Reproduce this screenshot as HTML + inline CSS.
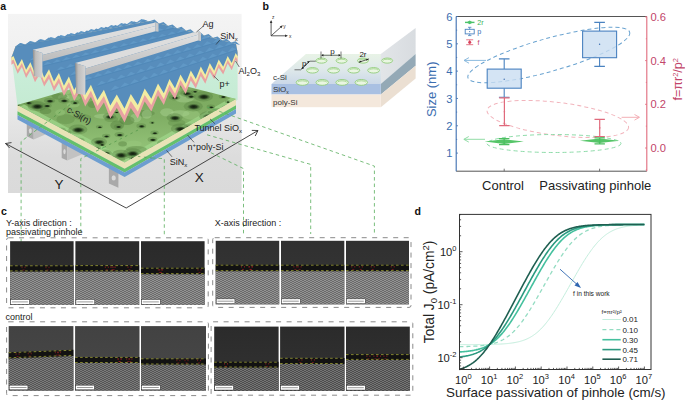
<!DOCTYPE html>
<html><head><meta charset="utf-8"><style>
html,body{margin:0;padding:0;background:#fff;width:685px;height:402px;overflow:hidden}
svg{display:block;font-family:"Liberation Sans",sans-serif}
</style></head><body>
<svg width="685" height="402" viewBox="0 0 685 402">
<defs>
<linearGradient id="abg" x1="0" y1="0" x2="0" y2="1"><stop offset="0" stop-color="#f4f4f4"/><stop offset="0.45" stop-color="#ececec"/><stop offset="0.8" stop-color="#dcdcdc"/><stop offset="1" stop-color="#dadada"/></linearGradient>
<linearGradient id="abulk" x1="0" y1="0" x2="0" y2="1"><stop offset="0" stop-color="#ccefdc"/><stop offset="1" stop-color="#bde6c9"/></linearGradient>
<linearGradient id="atex" x1="0" y1="0" x2="0" y2="1"><stop offset="0" stop-color="#78a65c"/><stop offset="0.5" stop-color="#80ae64"/><stop offset="1" stop-color="#9acb80"/></linearGradient>
<linearGradient id="afing" x1="0" y1="0" x2="0" y2="1"><stop offset="0" stop-color="#e2e2e2"/><stop offset="0.4" stop-color="#d0d0d0"/><stop offset="1" stop-color="#bcbcbc"/></linearGradient>
<linearGradient id="acap" x1="0" y1="0" x2="1" y2="0"><stop offset="0" stop-color="#8e8e8e"/><stop offset="0.3" stop-color="#bdbdbd"/><stop offset="1" stop-color="#d4d4d4"/></linearGradient>
<radialGradient id="ahole"><stop offset="0" stop-color="#101a0d"/><stop offset="0.45" stop-color="#243a1c"/><stop offset="1" stop-color="#3d5e30" stop-opacity="0"/></radialGradient>
<radialGradient id="afootg" cx="0.5" cy="0.5" r="0.6"><stop offset="0" stop-color="#d6d6d6"/><stop offset="1" stop-color="#a8a8a8"/></radialGradient>
</defs>
<rect x="8" y="13.9" width="233.6" height="179.1" fill="url(#abg)"/>
<path d="M11.4,56 L125,100 L237.6,50 L237.6,100 L124.6,162.5 L17.5,106 Z" fill="url(#abulk)"/>
<path d="M26.8,136.2 L33.7,139.4 L33.7,119.4 L26.8,116.2 Z" fill="#a9a9a9"/>
<ellipse cx="30.3" cy="130.8" rx="1.5" ry="2.6" fill="#dedede" opacity="0.9"/>
<path d="M33.7,139.4 L45.3,134.6 L45.3,114.6 L33.7,119.4 Z" fill="#c2c2c2"/>
<path d="M61.7,158.1 L67.2,160.6 L67.2,138.6 L61.7,136.1 Z" fill="#a9a9a9"/>
<ellipse cx="64.5" cy="151.6" rx="1.2" ry="2.6" fill="#dedede" opacity="0.9"/>
<path d="M67.2,160.6 L84.2,153.6 L84.2,131.6 L67.2,138.6 Z" fill="#c2c2c2"/>
<path d="M108.9,183.4 L118.4,187.8 L118.4,165.8 L108.9,161.4 Z" fill="#a9a9a9"/>
<ellipse cx="113.7" cy="177.9" rx="2.1" ry="2.6" fill="#dedede" opacity="0.9"/>
<path d="M17.5,105.0 L124.6,162.5 L236.0,99.0 L236.0,105.2 L124.6,168.7 L17.5,111.2 Z" fill="#e8e3b6"/>
<path d="M17.5,111.2 L124.6,168.7 L236.0,105.2 L236.0,108.9 L124.6,172.4 L17.5,114.9 Z" fill="#64c06c"/>
<path d="M17.5,114.9 L124.6,172.4 L236.0,108.9 L236.0,113.4 L124.6,176.9 L17.5,119.4 Z" fill="#6d9ed0"/>
<path d="M17.5,105 L130,72 L236,99 L124.6,162.5 Z" fill="url(#atex)"/>
<clipPath id="texclip"><path d="M17.5,105 L130,72 L236,99 L124.6,162.5 Z"/></clipPath>
<g clip-path="url(#texclip)"><path d="M17.5,105 L124.6,162.5 L236,99 L236,95 L124.6,158.0 L17.5,101 Z" fill="#9ed488" opacity="0.8"/><ellipse cx="87.2" cy="84.3" rx="4.3" ry="4.5" fill="#b0d898" opacity="0.4"/><ellipse cx="36.0" cy="125.4" rx="5.5" ry="2.3" fill="#4f7a3a" opacity="0.4"/><ellipse cx="108.3" cy="92.9" rx="7.0" ry="4.5" fill="#4f7a3a" opacity="0.4"/><ellipse cx="42.6" cy="91.2" rx="8.1" ry="2.2" fill="#b0d898" opacity="0.4"/><ellipse cx="145.6" cy="74.7" rx="4.3" ry="4.6" fill="#a3d088" opacity="0.4"/><ellipse cx="79.6" cy="83.7" rx="8.0" ry="3.7" fill="#557f3e" opacity="0.4"/><ellipse cx="167.1" cy="79.8" rx="8.5" ry="3.1" fill="#4f7a3a" opacity="0.4"/><ellipse cx="137.1" cy="76.0" rx="8.3" ry="3.5" fill="#557f3e" opacity="0.4"/><ellipse cx="133.6" cy="143.8" rx="8.1" ry="3.4" fill="#9ccb80" opacity="0.4"/><ellipse cx="81.8" cy="145.5" rx="9.5" ry="2.2" fill="#b0d898" opacity="0.4"/><ellipse cx="82.0" cy="117.0" rx="9.1" ry="2.9" fill="#5e8c45" opacity="0.4"/><ellipse cx="233.6" cy="81.2" rx="5.2" ry="3.0" fill="#9ccb80" opacity="0.4"/><ellipse cx="223.1" cy="110.1" rx="4.5" ry="3.7" fill="#b0d898" opacity="0.4"/><ellipse cx="191.0" cy="147.7" rx="8.9" ry="3.8" fill="#5e8c45" opacity="0.4"/><ellipse cx="144.3" cy="113.3" rx="10.6" ry="3.4" fill="#557f3e" opacity="0.4"/><ellipse cx="163.1" cy="75.8" rx="6.2" ry="3.7" fill="#b0d898" opacity="0.4"/><ellipse cx="166.9" cy="112.3" rx="6.7" ry="4.0" fill="#b0d898" opacity="0.4"/><ellipse cx="20.0" cy="113.9" rx="8.3" ry="3.5" fill="#a3d088" opacity="0.4"/><ellipse cx="63.7" cy="97.3" rx="5.7" ry="3.2" fill="#b0d898" opacity="0.4"/><ellipse cx="209.3" cy="77.7" rx="6.8" ry="2.8" fill="#9ccb80" opacity="0.4"/><ellipse cx="45.5" cy="110.9" rx="5.9" ry="3.2" fill="#4f7a3a" opacity="0.4"/><ellipse cx="95.0" cy="154.0" rx="5.1" ry="2.5" fill="#a3d088" opacity="0.4"/><ellipse cx="66.7" cy="92.2" rx="9.8" ry="2.5" fill="#9ccb80" opacity="0.4"/><ellipse cx="77.9" cy="83.8" rx="6.6" ry="3.7" fill="#4f7a3a" opacity="0.4"/><ellipse cx="227.5" cy="135.6" rx="10.7" ry="4.0" fill="#4f7a3a" opacity="0.4"/><ellipse cx="180.0" cy="113.4" rx="9.6" ry="3.2" fill="#b0d898" opacity="0.4"/><ellipse cx="104.0" cy="79.8" rx="6.8" ry="2.6" fill="#b0d898" opacity="0.4"/><ellipse cx="234.6" cy="111.9" rx="6.4" ry="2.2" fill="#557f3e" opacity="0.4"/><ellipse cx="15.1" cy="84.4" rx="10.6" ry="3.8" fill="#557f3e" opacity="0.4"/><ellipse cx="30.7" cy="89.8" rx="5.0" ry="2.8" fill="#9ccb80" opacity="0.4"/><ellipse cx="92.5" cy="104.6" rx="4.8" ry="3.5" fill="#557f3e" opacity="0.4"/><ellipse cx="233.1" cy="115.6" rx="4.6" ry="2.3" fill="#5e8c45" opacity="0.4"/><ellipse cx="91.4" cy="95.2" rx="5.1" ry="2.1" fill="#b0d898" opacity="0.4"/><ellipse cx="227.1" cy="120.2" rx="8.8" ry="4.7" fill="#a3d088" opacity="0.4"/><ellipse cx="184.1" cy="98.3" rx="10.0" ry="4.1" fill="#b0d898" opacity="0.4"/><ellipse cx="73.2" cy="104.8" rx="6.5" ry="2.7" fill="#a3d088" opacity="0.4"/><ellipse cx="135.8" cy="117.8" rx="5.6" ry="4.4" fill="#b0d898" opacity="0.4"/><ellipse cx="234.6" cy="151.0" rx="9.7" ry="4.2" fill="#a3d088" opacity="0.4"/><ellipse cx="65.6" cy="119.2" rx="9.1" ry="5.0" fill="#5e8c45" opacity="0.4"/><ellipse cx="191.2" cy="114.9" rx="8.8" ry="4.9" fill="#a3d088" opacity="0.4"/><ellipse cx="114.7" cy="159.0" rx="10.7" ry="3.1" fill="#5e8c45" opacity="0.4"/><ellipse cx="64.2" cy="91.6" rx="6.4" ry="3.4" fill="#a3d088" opacity="0.4"/><ellipse cx="234.7" cy="128.0" rx="7.4" ry="4.0" fill="#557f3e" opacity="0.4"/><ellipse cx="193.3" cy="78.1" rx="4.8" ry="3.2" fill="#b0d898" opacity="0.4"/><ellipse cx="173.7" cy="88.9" rx="7.0" ry="3.9" fill="#a3d088" opacity="0.4"/><ellipse cx="34.3" cy="159.9" rx="6.8" ry="3.2" fill="#b0d898" opacity="0.4"/><ellipse cx="226.1" cy="138.9" rx="11.0" ry="2.1" fill="#a3d088" opacity="0.4"/><ellipse cx="146.8" cy="114.2" rx="5.0" ry="4.5" fill="#b0d898" opacity="0.4"/><ellipse cx="233.6" cy="132.4" rx="5.1" ry="3.6" fill="#5e8c45" opacity="0.4"/><ellipse cx="19.8" cy="145.9" rx="8.5" ry="3.6" fill="#b0d898" opacity="0.4"/><ellipse cx="223.2" cy="111.2" rx="9.8" ry="2.6" fill="#a3d088" opacity="0.4"/><ellipse cx="71.2" cy="97.8" rx="9.3" ry="3.0" fill="#a3d088" opacity="0.4"/><ellipse cx="136.4" cy="149.2" rx="10.4" ry="3.1" fill="#557f3e" opacity="0.4"/><ellipse cx="117.2" cy="125.4" rx="6.9" ry="4.8" fill="#4f7a3a" opacity="0.4"/><ellipse cx="126.9" cy="120.5" rx="7.6" ry="4.6" fill="#4f7a3a" opacity="0.4"/><ellipse cx="188.2" cy="127.8" rx="5.2" ry="3.4" fill="#a3d088" opacity="0.4"/><ellipse cx="176.7" cy="122.9" rx="8.8" ry="3.6" fill="#5e8c45" opacity="0.4"/><ellipse cx="122.6" cy="143.8" rx="4.4" ry="2.6" fill="#4f7a3a" opacity="0.4"/><ellipse cx="24.4" cy="79.3" rx="7.9" ry="4.3" fill="#9ccb80" opacity="0.4"/><ellipse cx="218.5" cy="112.1" rx="10.8" ry="3.8" fill="#4f7a3a" opacity="0.4"/><ellipse cx="59.5" cy="96.3" rx="7.7" ry="3.4" fill="#4f7a3a" opacity="0.4"/><ellipse cx="225.0" cy="136.4" rx="10.5" ry="4.7" fill="#5e8c45" opacity="0.4"/><ellipse cx="60.2" cy="112.5" rx="4.9" ry="3.3" fill="#9ccb80" opacity="0.4"/><ellipse cx="31.2" cy="92.9" rx="5.5" ry="2.9" fill="#557f3e" opacity="0.4"/><ellipse cx="42.3" cy="143.8" rx="8.5" ry="3.1" fill="#b0d898" opacity="0.4"/><ellipse cx="71.4" cy="83.0" rx="5.5" ry="4.9" fill="#9ccb80" opacity="0.4"/><ellipse cx="103.8" cy="116.3" rx="9.8" ry="2.5" fill="#b0d898" opacity="0.4"/><ellipse cx="111.2" cy="119.0" rx="6.9" ry="3.1" fill="#5e8c45" opacity="0.4"/><ellipse cx="35.6" cy="104.8" rx="7.9" ry="3.3" fill="#5e8c45" opacity="0.4"/><ellipse cx="19.0" cy="101.5" rx="6.1" ry="4.9" fill="#4f7a3a" opacity="0.4"/><ellipse cx="-0.4" cy="96.8" rx="8.0" ry="4.4" fill="#4f7a3c" opacity="0.35"/><ellipse cx="0.0" cy="97.3" rx="5.8" ry="2.8" fill="url(#ahole)"/><ellipse cx="11.5" cy="93.1" rx="8.0" ry="4.4" fill="#4f7a3c" opacity="0.35"/><ellipse cx="11.9" cy="93.6" rx="5.8" ry="2.8" fill="url(#ahole)"/><ellipse cx="18.5" cy="87.9" rx="6.6" ry="3.6" fill="#4f7a3c" opacity="0.35"/><ellipse cx="18.9" cy="88.4" rx="4.8" ry="2.3" fill="url(#ahole)"/><ellipse cx="22.7" cy="86.4" rx="8.0" ry="4.4" fill="#4f7a3c" opacity="0.35"/><ellipse cx="23.1" cy="86.9" rx="5.8" ry="2.8" fill="url(#ahole)"/><ellipse cx="42.6" cy="80.6" rx="4.9" ry="2.7" fill="#4f7a3c" opacity="0.35"/><ellipse cx="43.0" cy="81.1" rx="3.5" ry="1.7" fill="url(#ahole)"/><ellipse cx="64.3" cy="75.3" rx="5.6" ry="3.0" fill="#4f7a3c" opacity="0.35"/><ellipse cx="64.7" cy="75.8" rx="4.0" ry="1.9" fill="url(#ahole)"/><ellipse cx="72.3" cy="74.2" rx="3.5" ry="1.9" fill="#4f7a3c" opacity="0.35"/><ellipse cx="72.7" cy="74.7" rx="2.5" ry="1.2" fill="url(#ahole)"/><ellipse cx="96.0" cy="68.6" rx="4.9" ry="2.7" fill="#4f7a3c" opacity="0.35"/><ellipse cx="96.4" cy="69.1" rx="3.5" ry="1.7" fill="url(#ahole)"/><ellipse cx="119.8" cy="57.6" rx="4.9" ry="2.7" fill="#4f7a3c" opacity="0.35"/><ellipse cx="120.2" cy="58.1" rx="3.5" ry="1.7" fill="url(#ahole)"/><ellipse cx="141.6" cy="54.1" rx="8.0" ry="4.4" fill="#4f7a3c" opacity="0.35"/><ellipse cx="142.0" cy="54.6" rx="5.8" ry="2.8" fill="url(#ahole)"/><ellipse cx="-4.3" cy="102.4" rx="4.2" ry="2.3" fill="#4f7a3c" opacity="0.35"/><ellipse cx="-3.9" cy="102.9" rx="3.0" ry="1.4" fill="url(#ahole)"/><ellipse cx="13.2" cy="96.8" rx="5.6" ry="3.0" fill="#4f7a3c" opacity="0.35"/><ellipse cx="13.6" cy="97.3" rx="4.0" ry="1.9" fill="url(#ahole)"/><ellipse cx="24.1" cy="94.9" rx="8.0" ry="4.4" fill="#4f7a3c" opacity="0.35"/><ellipse cx="24.5" cy="95.4" rx="5.8" ry="2.8" fill="url(#ahole)"/><ellipse cx="69.6" cy="84.0" rx="4.9" ry="2.7" fill="#4f7a3c" opacity="0.35"/><ellipse cx="70.0" cy="84.5" rx="3.5" ry="1.7" fill="url(#ahole)"/><ellipse cx="101.1" cy="73.9" rx="4.2" ry="2.3" fill="#4f7a3c" opacity="0.35"/><ellipse cx="101.5" cy="74.4" rx="3.0" ry="1.4" fill="url(#ahole)"/><ellipse cx="118.1" cy="66.8" rx="4.2" ry="2.3" fill="#4f7a3c" opacity="0.35"/><ellipse cx="118.5" cy="67.3" rx="3.0" ry="1.4" fill="url(#ahole)"/><ellipse cx="132.1" cy="64.3" rx="8.0" ry="4.4" fill="#4f7a3c" opacity="0.35"/><ellipse cx="132.5" cy="64.8" rx="5.8" ry="2.8" fill="url(#ahole)"/><ellipse cx="1.3" cy="110.8" rx="8.0" ry="4.4" fill="#4f7a3c" opacity="0.35"/><ellipse cx="1.7" cy="111.3" rx="5.8" ry="2.8" fill="url(#ahole)"/><ellipse cx="17.3" cy="104.8" rx="2.8" ry="1.5" fill="#4f7a3c" opacity="0.35"/><ellipse cx="17.7" cy="105.3" rx="2.0" ry="1.0" fill="url(#ahole)"/><ellipse cx="28.7" cy="102.7" rx="4.9" ry="2.7" fill="#4f7a3c" opacity="0.35"/><ellipse cx="29.1" cy="103.2" rx="3.5" ry="1.7" fill="url(#ahole)"/><ellipse cx="31.1" cy="98.8" rx="3.5" ry="1.9" fill="#4f7a3c" opacity="0.35"/><ellipse cx="31.5" cy="99.3" rx="2.5" ry="1.2" fill="url(#ahole)"/><ellipse cx="101.3" cy="81.1" rx="9.5" ry="5.1" fill="#4f7a3c" opacity="0.35"/><ellipse cx="101.7" cy="81.6" rx="6.8" ry="3.2" fill="url(#ahole)"/><ellipse cx="122.7" cy="74.5" rx="4.9" ry="2.7" fill="#4f7a3c" opacity="0.35"/><ellipse cx="123.1" cy="75.0" rx="3.5" ry="1.7" fill="url(#ahole)"/><ellipse cx="139.2" cy="70.0" rx="2.8" ry="1.5" fill="#4f7a3c" opacity="0.35"/><ellipse cx="139.6" cy="70.5" rx="2.0" ry="1.0" fill="url(#ahole)"/><ellipse cx="148.2" cy="66.2" rx="3.5" ry="1.9" fill="#4f7a3c" opacity="0.35"/><ellipse cx="148.6" cy="66.7" rx="2.5" ry="1.2" fill="url(#ahole)"/><ellipse cx="37.0" cy="106.1" rx="9.5" ry="5.1" fill="#4f7a3c" opacity="0.35"/><ellipse cx="37.4" cy="106.6" rx="6.8" ry="3.2" fill="url(#ahole)"/><ellipse cx="46.8" cy="105.6" rx="4.9" ry="2.7" fill="#4f7a3c" opacity="0.35"/><ellipse cx="47.2" cy="106.1" rx="3.5" ry="1.7" fill="url(#ahole)"/><ellipse cx="49.6" cy="100.7" rx="5.6" ry="3.0" fill="#4f7a3c" opacity="0.35"/><ellipse cx="50.0" cy="101.2" rx="4.0" ry="1.9" fill="url(#ahole)"/><ellipse cx="63.9" cy="100.4" rx="5.6" ry="3.0" fill="#4f7a3c" opacity="0.35"/><ellipse cx="64.3" cy="100.9" rx="4.0" ry="1.9" fill="url(#ahole)"/><ellipse cx="132.6" cy="80.1" rx="5.6" ry="3.0" fill="#4f7a3c" opacity="0.35"/><ellipse cx="133.0" cy="80.6" rx="4.0" ry="1.9" fill="url(#ahole)"/><ellipse cx="147.5" cy="75.5" rx="5.6" ry="3.0" fill="#4f7a3c" opacity="0.35"/><ellipse cx="147.9" cy="76.0" rx="4.0" ry="1.9" fill="url(#ahole)"/><ellipse cx="74.7" cy="102.6" rx="4.2" ry="2.3" fill="#4f7a3c" opacity="0.35"/><ellipse cx="75.1" cy="103.1" rx="3.0" ry="1.4" fill="url(#ahole)"/><ellipse cx="100.3" cy="95.8" rx="8.0" ry="4.4" fill="#4f7a3c" opacity="0.35"/><ellipse cx="100.7" cy="96.3" rx="5.8" ry="2.8" fill="url(#ahole)"/><ellipse cx="121.1" cy="89.0" rx="9.5" ry="5.1" fill="#4f7a3c" opacity="0.35"/><ellipse cx="121.5" cy="89.5" rx="6.8" ry="3.2" fill="url(#ahole)"/><ellipse cx="155.9" cy="77.7" rx="8.0" ry="4.4" fill="#4f7a3c" opacity="0.35"/><ellipse cx="156.3" cy="78.2" rx="5.8" ry="2.8" fill="url(#ahole)"/><ellipse cx="24.7" cy="125.0" rx="4.9" ry="2.7" fill="#4f7a3c" opacity="0.35"/><ellipse cx="25.1" cy="125.5" rx="3.5" ry="1.7" fill="url(#ahole)"/><ellipse cx="96.7" cy="102.4" rx="3.5" ry="1.9" fill="#4f7a3c" opacity="0.35"/><ellipse cx="97.1" cy="102.9" rx="2.5" ry="1.2" fill="url(#ahole)"/><ellipse cx="113.1" cy="100.7" rx="9.5" ry="5.1" fill="#4f7a3c" opacity="0.35"/><ellipse cx="113.5" cy="101.2" rx="6.8" ry="3.2" fill="url(#ahole)"/><ellipse cx="141.4" cy="91.4" rx="8.0" ry="4.4" fill="#4f7a3c" opacity="0.35"/><ellipse cx="141.8" cy="91.9" rx="5.8" ry="2.8" fill="url(#ahole)"/><ellipse cx="173.8" cy="80.1" rx="4.9" ry="2.7" fill="#4f7a3c" opacity="0.35"/><ellipse cx="174.2" cy="80.6" rx="3.5" ry="1.7" fill="url(#ahole)"/><ellipse cx="40.9" cy="125.2" rx="8.0" ry="4.4" fill="#4f7a3c" opacity="0.35"/><ellipse cx="41.3" cy="125.7" rx="5.8" ry="2.8" fill="url(#ahole)"/><ellipse cx="119.7" cy="104.8" rx="9.5" ry="5.1" fill="#4f7a3c" opacity="0.35"/><ellipse cx="120.1" cy="105.3" rx="6.8" ry="3.2" fill="url(#ahole)"/><ellipse cx="128.3" cy="101.4" rx="4.2" ry="2.3" fill="#4f7a3c" opacity="0.35"/><ellipse cx="128.7" cy="101.9" rx="3.0" ry="1.4" fill="url(#ahole)"/><ellipse cx="146.6" cy="96.8" rx="4.2" ry="2.3" fill="#4f7a3c" opacity="0.35"/><ellipse cx="147.0" cy="97.3" rx="3.0" ry="1.4" fill="url(#ahole)"/><ellipse cx="157.6" cy="92.7" rx="3.5" ry="1.9" fill="#4f7a3c" opacity="0.35"/><ellipse cx="158.0" cy="93.2" rx="2.5" ry="1.2" fill="url(#ahole)"/><ellipse cx="175.4" cy="86.5" rx="2.8" ry="1.5" fill="#4f7a3c" opacity="0.35"/><ellipse cx="175.8" cy="87.0" rx="2.0" ry="1.0" fill="url(#ahole)"/><ellipse cx="184.3" cy="84.5" rx="6.6" ry="3.6" fill="#4f7a3c" opacity="0.35"/><ellipse cx="184.7" cy="85.0" rx="4.8" ry="2.3" fill="url(#ahole)"/><ellipse cx="40.3" cy="133.1" rx="4.9" ry="2.7" fill="#4f7a3c" opacity="0.35"/><ellipse cx="40.7" cy="133.6" rx="3.5" ry="1.7" fill="url(#ahole)"/><ellipse cx="61.0" cy="130.2" rx="4.9" ry="2.7" fill="#4f7a3c" opacity="0.35"/><ellipse cx="61.4" cy="130.7" rx="3.5" ry="1.7" fill="url(#ahole)"/><ellipse cx="109.5" cy="116.5" rx="6.6" ry="3.6" fill="#4f7a3c" opacity="0.35"/><ellipse cx="109.9" cy="117.0" rx="4.8" ry="2.3" fill="url(#ahole)"/><ellipse cx="116.3" cy="112.0" rx="2.8" ry="1.5" fill="#4f7a3c" opacity="0.35"/><ellipse cx="116.7" cy="112.5" rx="2.0" ry="1.0" fill="url(#ahole)"/><ellipse cx="132.7" cy="106.8" rx="3.5" ry="1.9" fill="#4f7a3c" opacity="0.35"/><ellipse cx="133.1" cy="107.3" rx="2.5" ry="1.2" fill="url(#ahole)"/><ellipse cx="174.7" cy="97.4" rx="5.6" ry="3.0" fill="#4f7a3c" opacity="0.35"/><ellipse cx="175.1" cy="97.9" rx="4.0" ry="1.9" fill="url(#ahole)"/><ellipse cx="186.9" cy="93.4" rx="6.6" ry="3.6" fill="#4f7a3c" opacity="0.35"/><ellipse cx="187.3" cy="93.9" rx="4.8" ry="2.3" fill="url(#ahole)"/><ellipse cx="194.7" cy="91.3" rx="3.5" ry="1.9" fill="#4f7a3c" opacity="0.35"/><ellipse cx="195.1" cy="91.8" rx="2.5" ry="1.2" fill="url(#ahole)"/><ellipse cx="66.1" cy="133.0" rx="4.9" ry="2.7" fill="#4f7a3c" opacity="0.35"/><ellipse cx="66.5" cy="133.5" rx="3.5" ry="1.7" fill="url(#ahole)"/><ellipse cx="77.9" cy="129.5" rx="9.5" ry="5.1" fill="#4f7a3c" opacity="0.35"/><ellipse cx="78.3" cy="130.0" rx="6.8" ry="3.2" fill="url(#ahole)"/><ellipse cx="99.4" cy="126.8" rx="3.5" ry="1.9" fill="#4f7a3c" opacity="0.35"/><ellipse cx="99.8" cy="127.3" rx="2.5" ry="1.2" fill="url(#ahole)"/><ellipse cx="190.7" cy="96.2" rx="4.9" ry="2.7" fill="#4f7a3c" opacity="0.35"/><ellipse cx="191.1" cy="96.7" rx="3.5" ry="1.7" fill="url(#ahole)"/><ellipse cx="203.5" cy="96.4" rx="9.5" ry="5.1" fill="#4f7a3c" opacity="0.35"/><ellipse cx="203.9" cy="96.9" rx="6.8" ry="3.2" fill="url(#ahole)"/><ellipse cx="213.4" cy="92.0" rx="2.8" ry="1.5" fill="#4f7a3c" opacity="0.35"/><ellipse cx="213.8" cy="92.5" rx="2.0" ry="1.0" fill="url(#ahole)"/><ellipse cx="59.3" cy="142.4" rx="4.9" ry="2.7" fill="#4f7a3c" opacity="0.35"/><ellipse cx="59.7" cy="142.9" rx="3.5" ry="1.7" fill="url(#ahole)"/><ellipse cx="79.7" cy="140.4" rx="4.9" ry="2.7" fill="#4f7a3c" opacity="0.35"/><ellipse cx="80.1" cy="140.9" rx="3.5" ry="1.7" fill="url(#ahole)"/><ellipse cx="118.2" cy="126.5" rx="4.2" ry="2.3" fill="#4f7a3c" opacity="0.35"/><ellipse cx="118.6" cy="127.0" rx="3.0" ry="1.4" fill="url(#ahole)"/><ellipse cx="193.3" cy="106.3" rx="9.5" ry="5.1" fill="#4f7a3c" opacity="0.35"/><ellipse cx="193.7" cy="106.8" rx="6.8" ry="3.2" fill="url(#ahole)"/><ellipse cx="223.0" cy="96.5" rx="4.2" ry="2.3" fill="#4f7a3c" opacity="0.35"/><ellipse cx="223.4" cy="97.0" rx="3.0" ry="1.4" fill="url(#ahole)"/><ellipse cx="66.6" cy="147.9" rx="3.5" ry="1.9" fill="#4f7a3c" opacity="0.35"/><ellipse cx="67.0" cy="148.4" rx="2.5" ry="1.2" fill="url(#ahole)"/><ellipse cx="77.0" cy="144.7" rx="4.9" ry="2.7" fill="#4f7a3c" opacity="0.35"/><ellipse cx="77.4" cy="145.2" rx="3.5" ry="1.7" fill="url(#ahole)"/><ellipse cx="99.0" cy="141.8" rx="8.0" ry="4.4" fill="#4f7a3c" opacity="0.35"/><ellipse cx="99.4" cy="142.3" rx="5.8" ry="2.8" fill="url(#ahole)"/><ellipse cx="106.2" cy="136.0" rx="4.2" ry="2.3" fill="#4f7a3c" opacity="0.35"/><ellipse cx="106.6" cy="136.5" rx="3.0" ry="1.4" fill="url(#ahole)"/><ellipse cx="119.4" cy="134.6" rx="4.9" ry="2.7" fill="#4f7a3c" opacity="0.35"/><ellipse cx="119.8" cy="135.1" rx="3.5" ry="1.7" fill="url(#ahole)"/><ellipse cx="141.3" cy="125.9" rx="4.9" ry="2.7" fill="#4f7a3c" opacity="0.35"/><ellipse cx="141.7" cy="126.4" rx="3.5" ry="1.7" fill="url(#ahole)"/><ellipse cx="152.0" cy="122.4" rx="2.8" ry="1.5" fill="#4f7a3c" opacity="0.35"/><ellipse cx="152.4" cy="122.9" rx="2.0" ry="1.0" fill="url(#ahole)"/><ellipse cx="174.6" cy="117.6" rx="8.0" ry="4.4" fill="#4f7a3c" opacity="0.35"/><ellipse cx="175.0" cy="118.1" rx="5.8" ry="2.8" fill="url(#ahole)"/><ellipse cx="210.8" cy="106.9" rx="4.2" ry="2.3" fill="#4f7a3c" opacity="0.35"/><ellipse cx="211.2" cy="107.4" rx="3.0" ry="1.4" fill="url(#ahole)"/><ellipse cx="227.6" cy="101.6" rx="2.8" ry="1.5" fill="#4f7a3c" opacity="0.35"/><ellipse cx="228.0" cy="102.1" rx="2.0" ry="1.0" fill="url(#ahole)"/><ellipse cx="74.1" cy="152.6" rx="6.6" ry="3.6" fill="#4f7a3c" opacity="0.35"/><ellipse cx="74.5" cy="153.1" rx="4.8" ry="2.3" fill="url(#ahole)"/><ellipse cx="96.8" cy="148.0" rx="4.2" ry="2.3" fill="#4f7a3c" opacity="0.35"/><ellipse cx="97.2" cy="148.5" rx="3.0" ry="1.4" fill="url(#ahole)"/><ellipse cx="101.8" cy="144.4" rx="3.5" ry="1.9" fill="#4f7a3c" opacity="0.35"/><ellipse cx="102.2" cy="144.9" rx="2.5" ry="1.2" fill="url(#ahole)"/><ellipse cx="154.5" cy="132.8" rx="4.2" ry="2.3" fill="#4f7a3c" opacity="0.35"/><ellipse cx="154.9" cy="133.3" rx="3.0" ry="1.4" fill="url(#ahole)"/><ellipse cx="208.8" cy="116.3" rx="9.5" ry="5.1" fill="#4f7a3c" opacity="0.35"/><ellipse cx="209.2" cy="116.8" rx="6.8" ry="3.2" fill="url(#ahole)"/><ellipse cx="220.0" cy="112.1" rx="3.5" ry="1.9" fill="#4f7a3c" opacity="0.35"/><ellipse cx="220.4" cy="112.6" rx="2.5" ry="1.2" fill="url(#ahole)"/><ellipse cx="227.5" cy="108.6" rx="6.6" ry="3.6" fill="#4f7a3c" opacity="0.35"/><ellipse cx="227.9" cy="109.1" rx="4.8" ry="2.3" fill="url(#ahole)"/><ellipse cx="239.5" cy="105.1" rx="6.6" ry="3.6" fill="#4f7a3c" opacity="0.35"/><ellipse cx="239.9" cy="105.6" rx="4.8" ry="2.3" fill="url(#ahole)"/><ellipse cx="105.4" cy="153.0" rx="6.6" ry="3.6" fill="#4f7a3c" opacity="0.35"/><ellipse cx="105.8" cy="153.5" rx="4.8" ry="2.3" fill="url(#ahole)"/><ellipse cx="152.5" cy="139.4" rx="4.9" ry="2.7" fill="#4f7a3c" opacity="0.35"/><ellipse cx="152.9" cy="139.9" rx="3.5" ry="1.7" fill="url(#ahole)"/><ellipse cx="180.4" cy="128.7" rx="9.5" ry="5.1" fill="#4f7a3c" opacity="0.35"/><ellipse cx="180.8" cy="129.2" rx="6.8" ry="3.2" fill="url(#ahole)"/><ellipse cx="189.3" cy="126.5" rx="5.6" ry="3.0" fill="#4f7a3c" opacity="0.35"/><ellipse cx="189.7" cy="127.0" rx="4.0" ry="1.9" fill="url(#ahole)"/><ellipse cx="219.3" cy="120.1" rx="9.5" ry="5.1" fill="#4f7a3c" opacity="0.35"/><ellipse cx="219.7" cy="120.6" rx="6.8" ry="3.2" fill="url(#ahole)"/><ellipse cx="104.9" cy="159.1" rx="8.0" ry="4.4" fill="#4f7a3c" opacity="0.35"/><ellipse cx="105.3" cy="159.6" rx="5.8" ry="2.8" fill="url(#ahole)"/><ellipse cx="121.0" cy="154.8" rx="9.5" ry="5.1" fill="#4f7a3c" opacity="0.35"/><ellipse cx="121.4" cy="155.3" rx="6.8" ry="3.2" fill="url(#ahole)"/><ellipse cx="132.4" cy="153.3" rx="9.5" ry="5.1" fill="#4f7a3c" opacity="0.35"/><ellipse cx="132.8" cy="153.8" rx="6.8" ry="3.2" fill="url(#ahole)"/><ellipse cx="154.1" cy="148.2" rx="3.5" ry="1.9" fill="#4f7a3c" opacity="0.35"/><ellipse cx="154.5" cy="148.7" rx="2.5" ry="1.2" fill="url(#ahole)"/><ellipse cx="162.7" cy="142.8" rx="5.6" ry="3.0" fill="#4f7a3c" opacity="0.35"/><ellipse cx="163.1" cy="143.3" rx="4.0" ry="1.9" fill="url(#ahole)"/><ellipse cx="171.3" cy="141.9" rx="8.0" ry="4.4" fill="#4f7a3c" opacity="0.35"/><ellipse cx="171.7" cy="142.4" rx="5.8" ry="2.8" fill="url(#ahole)"/><ellipse cx="184.2" cy="138.0" rx="5.6" ry="3.0" fill="#4f7a3c" opacity="0.35"/><ellipse cx="184.6" cy="138.5" rx="4.0" ry="1.9" fill="url(#ahole)"/><ellipse cx="209.0" cy="128.7" rx="6.6" ry="3.6" fill="#4f7a3c" opacity="0.35"/><ellipse cx="209.4" cy="129.2" rx="4.8" ry="2.3" fill="url(#ahole)"/><ellipse cx="216.1" cy="126.5" rx="8.0" ry="4.4" fill="#4f7a3c" opacity="0.35"/><ellipse cx="216.5" cy="127.0" rx="5.8" ry="2.8" fill="url(#ahole)"/><ellipse cx="230.7" cy="125.4" rx="9.5" ry="5.1" fill="#4f7a3c" opacity="0.35"/><ellipse cx="231.1" cy="125.9" rx="6.8" ry="3.2" fill="url(#ahole)"/><ellipse cx="110.1" cy="164.2" rx="4.2" ry="2.3" fill="#4f7a3c" opacity="0.35"/><ellipse cx="110.5" cy="164.7" rx="3.0" ry="1.4" fill="url(#ahole)"/><ellipse cx="132.2" cy="157.8" rx="3.5" ry="1.9" fill="#4f7a3c" opacity="0.35"/><ellipse cx="132.6" cy="158.3" rx="2.5" ry="1.2" fill="url(#ahole)"/><ellipse cx="141.8" cy="158.1" rx="6.6" ry="3.6" fill="#4f7a3c" opacity="0.35"/><ellipse cx="142.2" cy="158.6" rx="4.8" ry="2.3" fill="url(#ahole)"/><ellipse cx="153.3" cy="152.3" rx="3.5" ry="1.9" fill="#4f7a3c" opacity="0.35"/><ellipse cx="153.7" cy="152.8" rx="2.5" ry="1.2" fill="url(#ahole)"/><ellipse cx="165.2" cy="151.9" rx="8.0" ry="4.4" fill="#4f7a3c" opacity="0.35"/><ellipse cx="165.6" cy="152.4" rx="5.8" ry="2.8" fill="url(#ahole)"/><ellipse cx="179.9" cy="143.8" rx="3.5" ry="1.9" fill="#4f7a3c" opacity="0.35"/><ellipse cx="180.3" cy="144.3" rx="2.5" ry="1.2" fill="url(#ahole)"/><ellipse cx="194.8" cy="139.7" rx="4.9" ry="2.7" fill="#4f7a3c" opacity="0.35"/><ellipse cx="195.2" cy="140.2" rx="3.5" ry="1.7" fill="url(#ahole)"/><ellipse cx="231.0" cy="132.0" rx="9.5" ry="5.1" fill="#4f7a3c" opacity="0.35"/><ellipse cx="231.4" cy="132.5" rx="6.8" ry="3.2" fill="url(#ahole)"/><ellipse cx="245.3" cy="126.3" rx="6.6" ry="3.6" fill="#4f7a3c" opacity="0.35"/><ellipse cx="245.7" cy="126.8" rx="4.8" ry="2.3" fill="url(#ahole)"/><ellipse cx="252.7" cy="124.4" rx="3.5" ry="1.9" fill="#4f7a3c" opacity="0.35"/><ellipse cx="253.1" cy="124.9" rx="2.5" ry="1.2" fill="url(#ahole)"/><ellipse cx="113.3" cy="172.9" rx="2.8" ry="1.5" fill="#4f7a3c" opacity="0.35"/><ellipse cx="113.7" cy="173.4" rx="2.0" ry="1.0" fill="url(#ahole)"/><ellipse cx="169.0" cy="157.1" rx="3.5" ry="1.9" fill="#4f7a3c" opacity="0.35"/><ellipse cx="169.4" cy="157.6" rx="2.5" ry="1.2" fill="url(#ahole)"/><ellipse cx="209.1" cy="143.6" rx="8.0" ry="4.4" fill="#4f7a3c" opacity="0.35"/><ellipse cx="209.5" cy="144.1" rx="5.8" ry="2.8" fill="url(#ahole)"/><ellipse cx="220.8" cy="143.4" rx="4.2" ry="2.3" fill="#4f7a3c" opacity="0.35"/><ellipse cx="221.2" cy="143.9" rx="3.0" ry="1.4" fill="url(#ahole)"/><ellipse cx="228.5" cy="139.2" rx="2.8" ry="1.5" fill="#4f7a3c" opacity="0.35"/><ellipse cx="228.9" cy="139.7" rx="2.0" ry="1.0" fill="url(#ahole)"/><ellipse cx="248.4" cy="134.7" rx="4.2" ry="2.3" fill="#4f7a3c" opacity="0.35"/><ellipse cx="248.8" cy="135.2" rx="3.0" ry="1.4" fill="url(#ahole)"/><ellipse cx="262.0" cy="128.0" rx="4.9" ry="2.7" fill="#4f7a3c" opacity="0.35"/><ellipse cx="262.4" cy="128.5" rx="3.5" ry="1.7" fill="url(#ahole)"/><ellipse cx="272.5" cy="126.1" rx="4.2" ry="2.3" fill="#4f7a3c" opacity="0.35"/><ellipse cx="272.9" cy="126.6" rx="3.0" ry="1.4" fill="url(#ahole)"/><ellipse cx="127.2" cy="177.1" rx="6.6" ry="3.6" fill="#4f7a3c" opacity="0.35"/><ellipse cx="127.6" cy="177.6" rx="4.8" ry="2.3" fill="url(#ahole)"/><ellipse cx="165.0" cy="167.2" rx="8.0" ry="4.4" fill="#4f7a3c" opacity="0.35"/><ellipse cx="165.4" cy="167.7" rx="5.8" ry="2.8" fill="url(#ahole)"/><ellipse cx="166.8" cy="163.5" rx="5.6" ry="3.0" fill="#4f7a3c" opacity="0.35"/><ellipse cx="167.2" cy="164.0" rx="4.0" ry="1.9" fill="url(#ahole)"/><ellipse cx="190.0" cy="157.3" rx="5.6" ry="3.0" fill="#4f7a3c" opacity="0.35"/><ellipse cx="190.4" cy="157.8" rx="4.0" ry="1.9" fill="url(#ahole)"/><ellipse cx="196.1" cy="155.8" rx="8.0" ry="4.4" fill="#4f7a3c" opacity="0.35"/><ellipse cx="196.5" cy="156.3" rx="5.8" ry="2.8" fill="url(#ahole)"/><ellipse cx="203.6" cy="151.5" rx="8.0" ry="4.4" fill="#4f7a3c" opacity="0.35"/><ellipse cx="204.0" cy="152.0" rx="5.8" ry="2.8" fill="url(#ahole)"/><ellipse cx="219.8" cy="150.5" rx="4.9" ry="2.7" fill="#4f7a3c" opacity="0.35"/><ellipse cx="220.2" cy="151.0" rx="3.5" ry="1.7" fill="url(#ahole)"/><ellipse cx="246.3" cy="140.8" rx="4.2" ry="2.3" fill="#4f7a3c" opacity="0.35"/><ellipse cx="246.7" cy="141.3" rx="3.0" ry="1.4" fill="url(#ahole)"/><ellipse cx="264.1" cy="136.5" rx="4.2" ry="2.3" fill="#4f7a3c" opacity="0.35"/><ellipse cx="264.5" cy="137.0" rx="3.0" ry="1.4" fill="url(#ahole)"/><ellipse cx="129.3" cy="181.8" rx="4.9" ry="2.7" fill="#4f7a3c" opacity="0.35"/><ellipse cx="129.7" cy="182.3" rx="3.5" ry="1.7" fill="url(#ahole)"/><ellipse cx="139.5" cy="180.0" rx="4.9" ry="2.7" fill="#4f7a3c" opacity="0.35"/><ellipse cx="139.9" cy="180.5" rx="3.5" ry="1.7" fill="url(#ahole)"/><ellipse cx="152.2" cy="177.2" rx="6.6" ry="3.6" fill="#4f7a3c" opacity="0.35"/><ellipse cx="152.6" cy="177.7" rx="4.8" ry="2.3" fill="url(#ahole)"/><ellipse cx="160.0" cy="174.0" rx="4.9" ry="2.7" fill="#4f7a3c" opacity="0.35"/><ellipse cx="160.4" cy="174.5" rx="3.5" ry="1.7" fill="url(#ahole)"/><ellipse cx="170.6" cy="173.0" rx="3.5" ry="1.9" fill="#4f7a3c" opacity="0.35"/><ellipse cx="171.0" cy="173.5" rx="2.5" ry="1.2" fill="url(#ahole)"/><ellipse cx="181.0" cy="168.8" rx="5.6" ry="3.0" fill="#4f7a3c" opacity="0.35"/><ellipse cx="181.4" cy="169.3" rx="4.0" ry="1.9" fill="url(#ahole)"/><ellipse cx="197.0" cy="162.7" rx="6.6" ry="3.6" fill="#4f7a3c" opacity="0.35"/><ellipse cx="197.4" cy="163.2" rx="4.8" ry="2.3" fill="url(#ahole)"/><ellipse cx="218.6" cy="156.3" rx="8.0" ry="4.4" fill="#4f7a3c" opacity="0.35"/><ellipse cx="219.0" cy="156.8" rx="5.8" ry="2.8" fill="url(#ahole)"/><ellipse cx="223.9" cy="155.0" rx="3.5" ry="1.9" fill="#4f7a3c" opacity="0.35"/><ellipse cx="224.3" cy="155.5" rx="2.5" ry="1.2" fill="url(#ahole)"/><ellipse cx="243.5" cy="149.7" rx="6.6" ry="3.6" fill="#4f7a3c" opacity="0.35"/><ellipse cx="243.9" cy="150.2" rx="4.8" ry="2.3" fill="url(#ahole)"/><ellipse cx="256.8" cy="146.3" rx="8.0" ry="4.4" fill="#4f7a3c" opacity="0.35"/><ellipse cx="257.2" cy="146.8" rx="5.8" ry="2.8" fill="url(#ahole)"/><ellipse cx="262.1" cy="143.8" rx="4.2" ry="2.3" fill="#4f7a3c" opacity="0.35"/><ellipse cx="262.5" cy="144.3" rx="3.0" ry="1.4" fill="url(#ahole)"/><ellipse cx="274.2" cy="141.7" rx="4.9" ry="2.7" fill="#4f7a3c" opacity="0.35"/><ellipse cx="274.6" cy="142.2" rx="3.5" ry="1.7" fill="url(#ahole)"/></g>
<path d="M237.6,52.5 L236.0,44.0 L150.0,21.0 L15.5,46.5 L11.4,57.4 L11.4,64.7 L13.5,63.3 L17.7,73.8 L21.9,66.9 L26.1,77.9 L30.4,70.6 L35.0,82.2 L39.5,74.6 L44.2,86.6 L49.0,78.7 L54.0,91.3 L58.9,83.0 L63.9,96.1 L68.9,87.3 L74.2,101.1 L79.5,91.9 L85.2,106.4 L90.9,96.8 L97.4,112.3 L103.9,102.5 L110.3,118.6 L116.8,108.1 L124.5,122.5 L130.8,108.0 L137.8,118.4 L144.7,101.6 L151.3,111.5 L158.0,95.5 L163.8,105.1 L169.5,90.3 L175.0,99.3 L180.5,85.2 L185.7,93.9 L190.8,80.5 L195.8,88.6 L200.8,76.0 L205.3,83.8 L209.8,71.8 L214.2,79.2 L218.7,67.8 L223.2,74.6 L227.7,63.6 L231.7,70.2 L235.7,60.0 L237.6,63.2 Z" fill="#e8a2a2"/>
<path d="M237.6,52.5 L236.0,44.0 L150.0,21.0 L15.5,46.5 L11.4,57.4 L11.4,61.0 L13.5,59.6 L17.7,70.0 L21.9,63.0 L26.1,73.8 L30.4,66.4 L35.0,77.8 L39.5,70.1 L44.2,82.0 L49.0,73.9 L54.0,86.4 L58.9,77.9 L63.9,90.9 L68.9,82.0 L74.2,95.6 L79.5,86.2 L85.2,100.6 L90.9,90.8 L97.4,106.1 L103.9,96.1 L110.3,112.0 L116.8,101.3 L124.5,115.5 L130.8,101.0 L137.8,111.7 L144.7,95.1 L151.3,105.1 L158.0,89.5 L163.8,99.2 L169.5,84.6 L175.0,93.8 L180.5,79.9 L185.7,88.7 L190.8,75.5 L195.8,83.8 L200.8,71.3 L205.3,79.3 L209.8,67.5 L214.2,75.0 L218.7,63.7 L223.2,70.7 L227.7,59.9 L231.7,66.6 L235.7,56.5 L237.6,59.7 Z" fill="#f2eca2"/>
<path d="M237.6,52.5 L236.0,44.0 L150.0,21.0 L15.5,46.5 L11.4,57.4 L11.4,57.4 L13.5,55.9 L17.7,66.2 L21.9,59.0 L26.1,69.8 L30.4,62.2 L35.0,73.5 L39.5,65.6 L44.2,77.4 L49.0,69.2 L54.0,81.5 L58.9,72.9 L63.9,85.7 L68.9,76.6 L74.2,90.1 L79.5,80.6 L85.2,94.8 L90.9,84.8 L97.4,99.9 L103.9,89.7 L110.3,105.4 L116.8,94.5 L124.5,108.5 L130.8,94.0 L137.8,104.9 L144.7,88.6 L151.3,98.8 L158.0,83.4 L163.8,93.3 L169.5,78.9 L175.0,88.3 L180.5,74.6 L185.7,83.5 L190.8,70.5 L195.8,79.0 L200.8,66.6 L205.3,74.8 L209.8,63.1 L214.2,70.8 L218.7,59.6 L223.2,66.8 L227.7,56.1 L231.7,63.0 L235.7,53.0 L237.6,56.3 Z" fill="#578dbc"/>
<g><path d="M15.5,46.5 L20.5,42.9 L25.6,44.5 Z M25.6,44.5 L30.6,40.9 L35.7,42.5 Z M35.7,42.5 L40.7,38.9 L45.7,40.5 Z M45.7,40.5 L50.8,36.9 L55.8,38.5 Z M55.8,38.5 L60.8,34.9 L65.9,36.5 Z M65.9,36.5 L70.9,32.9 L76.0,34.5 Z M76.0,34.5 L81.0,30.9 L86.0,32.5 Z M86.0,32.5 L91.1,28.9 L96.1,30.5 Z M96.1,30.5 L101.2,26.9 L106.2,28.5 Z M106.2,28.5 L111.2,24.9 L116.3,26.5 Z M116.3,26.5 L121.3,22.9 L126.3,24.5 Z M126.3,24.5 L131.4,20.9 L136.4,22.5 Z M136.4,22.5 L141.5,18.9 L146.5,20.5 Z" fill="#6098c6"/><path d="M15.5,46.8 L146.5,20.8" stroke="#4d86b6" stroke-width="1" opacity="0.6"/><path d="M29.0,60.9 L33.8,57.0 L38.7,58.7 Z M38.7,58.7 L43.5,54.8 L48.3,56.5 Z M48.3,56.5 L53.2,52.6 L58.0,54.3 Z M58.0,54.3 L62.8,50.4 L67.7,52.1 Z M67.7,52.1 L72.5,48.1 L77.3,49.9 Z M77.3,49.9 L82.2,45.9 L87.0,47.6 Z M87.0,47.6 L91.8,43.7 L96.7,45.4 Z M96.7,45.4 L101.5,41.5 L106.3,43.2 Z M106.3,43.2 L111.2,39.3 L116.0,41.0 Z M116.0,41.0 L120.8,37.1 L125.7,38.8 Z M125.7,38.8 L130.5,34.9 L135.3,36.6 Z M135.3,36.6 L140.2,32.7 L145.0,34.4 Z M145.0,34.4 L149.8,30.5 L154.7,32.2 Z M154.7,32.2 L159.5,28.3 L164.3,30.0 Z M164.3,30.0 L169.2,26.1 L174.0,27.8 Z" fill="#6098c6"/><path d="M29.0,61.2 L174.0,28.1" stroke="#4d86b6" stroke-width="1" opacity="0.6"/><path d="M42.5,65.9 L47.3,61.8 L52.1,63.6 Z M52.1,63.6 L56.8,59.4 L61.6,61.3 Z M61.6,61.3 L66.4,57.1 L71.2,59.0 Z M71.2,59.0 L76.0,54.8 L80.8,56.6 Z M80.8,56.6 L85.5,52.5 L90.3,54.3 Z M90.3,54.3 L95.1,50.1 L99.9,52.0 Z M99.9,52.0 L104.7,47.8 L109.5,49.7 Z M109.5,49.7 L114.2,45.5 L119.0,47.4 Z M119.0,47.4 L123.8,43.2 L128.6,45.0 Z M128.6,45.0 L133.4,40.9 L138.2,42.7 Z M138.2,42.7 L142.9,38.5 L147.7,40.4 Z M147.7,40.4 L152.5,36.2 L157.3,38.1 Z M157.3,38.1 L162.1,33.9 L166.9,35.7 Z M166.9,35.7 L171.7,31.6 L176.4,33.4 Z M176.4,33.4 L181.2,29.2 L186.0,31.1 Z" fill="#6098c6"/><path d="M42.5,66.2 L186.0,31.4" stroke="#4d86b6" stroke-width="1" opacity="0.6"/><path d="M56.0,71.0 L60.8,66.6 L65.5,68.5 Z M65.5,68.5 L70.2,64.1 L75.0,66.1 Z M75.0,66.1 L79.8,61.6 L84.5,63.6 Z M84.5,63.6 L89.2,59.2 L94.0,61.2 Z M94.0,61.2 L98.8,56.7 L103.5,58.7 Z M103.5,58.7 L108.2,54.3 L113.0,56.3 Z M113.0,56.3 L117.8,51.8 L122.5,53.8 Z M122.5,53.8 L127.2,49.4 L132.0,51.4 Z M132.0,51.4 L136.8,46.9 L141.5,48.9 Z M141.5,48.9 L146.2,44.5 L151.0,46.5 Z M151.0,46.5 L155.8,42.0 L160.5,44.0 Z M160.5,44.0 L165.2,39.6 L170.0,41.6 Z M170.0,41.6 L174.8,37.1 L179.5,39.1 Z M179.5,39.1 L184.2,34.7 L189.0,36.7 Z M189.0,36.7 L193.8,32.2 L198.5,34.2 Z" fill="#6098c6"/><path d="M56.0,71.3 L198.5,34.5" stroke="#4d86b6" stroke-width="1" opacity="0.6"/><path d="M69.5,76.0 L74.5,71.3 L79.5,73.3 Z M79.5,73.3 L84.6,68.5 L89.6,70.5 Z M89.6,70.5 L94.6,65.7 L99.6,67.8 Z M99.6,67.8 L104.6,63.0 L109.6,65.0 Z M109.6,65.0 L114.7,60.2 L119.7,62.3 Z M119.7,62.3 L124.7,57.5 L129.7,59.5 Z M129.7,59.5 L134.7,54.7 L139.8,56.8 Z M139.8,56.8 L144.8,52.0 L149.8,54.0 Z M149.8,54.0 L154.8,49.2 L159.8,51.3 Z M159.8,51.3 L164.8,46.5 L169.9,48.5 Z M169.9,48.5 L174.9,43.7 L179.9,45.8 Z M179.9,45.8 L184.9,41.0 L189.9,43.0 Z M189.9,43.0 L194.9,38.2 L200.0,40.3 Z M200.0,40.3 L205.0,35.5 L210.0,37.5 Z" fill="#6098c6"/><path d="M69.5,76.3 L210.0,37.8" stroke="#4d86b6" stroke-width="1" opacity="0.6"/><path d="M83.0,81.1 L88.0,76.0 L92.9,78.2 Z M92.9,78.2 L97.9,73.1 L102.9,75.3 Z M102.9,75.3 L107.8,70.2 L112.8,72.4 Z M112.8,72.4 L117.7,67.4 L122.7,69.5 Z M122.7,69.5 L127.7,64.5 L132.6,66.6 Z M132.6,66.6 L137.6,61.6 L142.6,63.8 Z M142.6,63.8 L147.5,58.7 L152.5,60.9 Z M152.5,60.9 L157.5,55.8 L162.4,58.0 Z M162.4,58.0 L167.4,52.9 L172.4,55.1 Z M172.4,55.1 L177.3,50.0 L182.3,52.2 Z M182.3,52.2 L187.2,47.1 L192.2,49.3 Z M192.2,49.3 L197.2,44.2 L202.1,46.4 Z M202.1,46.4 L207.1,41.3 L212.1,43.5 Z M212.1,43.5 L217.0,38.5 L222.0,40.6 Z" fill="#6098c6"/><path d="M83.0,81.4 L222.0,40.9" stroke="#4d86b6" stroke-width="1" opacity="0.6"/><path d="M96.5,86.1 L101.4,80.8 L106.3,83.1 Z M106.3,83.1 L111.2,77.8 L116.1,80.1 Z M116.1,80.1 L121.1,74.7 L126.0,77.0 Z M126.0,77.0 L130.9,71.7 L135.8,74.0 Z M135.8,74.0 L140.7,68.7 L145.6,71.0 Z M145.6,71.0 L150.5,65.6 L155.4,67.9 Z M155.4,67.9 L160.3,62.6 L165.3,64.9 Z M165.2,64.9 L170.2,59.6 L175.1,61.9 Z M175.1,61.9 L180.0,56.5 L184.9,58.8 Z M184.9,58.8 L189.8,53.5 L194.7,55.8 Z M194.7,55.8 L199.6,50.5 L204.5,52.8 Z M204.5,52.8 L209.4,47.4 L214.4,49.7 Z M214.4,49.7 L219.3,44.4 L224.2,46.7 Z M224.2,46.7 L229.1,41.4 L234.0,43.7 Z" fill="#6098c6"/><path d="M96.5,86.4 L234.0,44.0" stroke="#4d86b6" stroke-width="1" opacity="0.6"/><path d="M110.0,91.2 L114.9,85.6 L119.8,88.0 Z M119.8,88.0 L124.7,82.4 L129.5,84.8 Z M129.5,84.8 L134.4,79.2 L139.3,81.6 Z M139.3,81.6 L144.2,76.0 L149.1,78.4 Z M149.1,78.4 L154.0,72.8 L158.8,75.2 Z M158.8,75.2 L163.7,69.6 L168.6,72.0 Z M168.6,72.0 L173.5,66.4 L178.4,68.8 Z M178.4,68.8 L183.3,63.2 L188.2,65.6 Z M188.2,65.6 L193.0,60.0 L197.9,62.4 Z M197.9,62.4 L202.8,56.8 L207.7,59.2 Z M207.7,59.2 L212.6,53.6 L217.5,56.0 Z M217.5,56.0 L222.3,50.4 L227.2,52.8 Z M227.2,52.8 L232.1,47.2 L237.0,49.6 Z" fill="#6098c6"/><path d="M110.0,91.5 L237.0,49.9" stroke="#4d86b6" stroke-width="1" opacity="0.6"/></g>
<path d="M15.5,46.5 L20.2,43.0 L25.0,44.7 Z M25.0,44.7 L29.8,41.2 L34.5,42.9 Z M34.5,42.9 L39.2,39.4 L44.0,41.1 Z M44.0,41.1 L48.8,37.6 L53.5,39.3 Z M53.5,39.3 L58.2,35.8 L63.0,37.5 Z M63.0,37.5 L67.8,34.0 L72.5,35.7 Z M72.5,35.7 L77.2,32.2 L82.0,33.9 Z M82.0,33.9 L86.8,30.4 L91.5,32.1 Z M91.5,32.1 L96.2,28.6 L101.0,30.3 Z M101.0,30.3 L105.8,26.8 L110.5,28.5 Z M110.5,28.5 L115.2,25.0 L120.0,26.7 Z M120.0,26.7 L124.8,23.2 L129.5,24.9 Z M129.5,24.9 L134.2,21.4 L139.0,23.1 Z M139.0,23.1 L143.8,19.6 L148.5,21.3 Z M150.0,21.0 L154.5,19.6 L159.0,23.4 Z M159.0,23.4 L163.5,22.0 L168.0,25.8 Z M168.0,25.8 L172.5,24.4 L177.0,28.2 Z M177.0,28.2 L181.5,26.8 L186.0,30.6 Z M186.0,30.6 L190.5,29.2 L195.0,33.0 Z M195.0,33.0 L199.5,31.6 L204.0,35.4 Z M204.0,35.4 L208.5,34.0 L213.0,37.8 Z M213.0,37.8 L217.5,36.4 L222.0,40.2 Z M222.0,40.2 L226.5,38.8 L231.0,42.6 Z M231.0,42.6 L235.5,41.2 L240.0,45.0 Z" fill="#5a90be"/>
<path d="M32.8,49.7 L155.5,22.5 L155.5,25.9 L42.4,54.9 L42.4,52.9 Z" fill="#dddddd"/><path d="M42.4,54.9 L155.5,25.9 L155.5,31.3 L42.4,61.5 Z" fill="url(#afing)"/><path d="M155.5,22.5 L158.5,23.5 L158.5,31.8 L155.5,31.3 Z" fill="#c8c8c8"/><path d="M32.8,49.7 L42.4,52.9 L42.4,77.8 L33.8,76.30000000000001 Z" fill="url(#acap)"/>
<path d="M75.1,62.9 L198,31.2 L198,34.8 L85.39999999999999,68.5 L85.39999999999999,66.3 Z" fill="#dddddd"/><path d="M85.39999999999999,68.5 L198,34.8 L198,40.6 L85.39999999999999,75.5 Z" fill="url(#afing)"/><path d="M198,31.2 L201,32.2 L201,41.1 L198,40.6 Z" fill="#c8c8c8"/><path d="M75.1,62.9 L85.39999999999999,66.3 L85.39999999999999,94.9 L76.1,93.4 Z" fill="url(#acap)"/>
<text x="0.3" y="9.8" font-size="10.6" font-weight="bold" fill="#111">a</text>
<text x="202.6" y="27" font-size="9" fill="#222">Ag</text>
<path d="M203.5,26 L196.5,32" stroke="#222" stroke-width="0.6"/>
<text x="220.2" y="39.2" font-size="9" fill="#222">SiN<tspan dy="2.2" font-size="6">x</tspan></text>
<path d="M219.8,40 L216,44.6" stroke="#222" stroke-width="0.6"/>
<text x="238.6" y="74" font-size="9" fill="#222">Al<tspan dy="2.2" font-size="6">2</tspan><tspan dy="-2.2">O</tspan><tspan dy="2.2" font-size="6">3</tspan></text>
<path d="M239.3,67 L235.5,61" stroke="#222" stroke-width="0.6"/>
<text x="219.5" y="87" font-size="9" fill="#222">p+</text>
<path d="M218.6,80.6 L213.6,75.8" stroke="#222" stroke-width="0.6"/>
<text transform="translate(66.2,111.5) rotate(30)" font-size="9" fill="#222">c-Si(n)</text>
<text x="194.4" y="131" font-size="9" fill="#222">Tunnel SiO<tspan dy="2.2" font-size="6">x</tspan></text>
<path d="M210,118.9 L214.9,123.7" stroke="#222" stroke-width="0.6"/>
<text x="187.5" y="150.4" font-size="9" fill="#222">n<tspan dy="-3.5" font-size="6">+</tspan><tspan dy="3.5">poly-Si</tspan></text>
<path d="M187.5,135 L194,142.3" stroke="#222" stroke-width="0.6"/>
<text x="169.7" y="165" font-size="9" fill="#222">SiN<tspan dy="2.2" font-size="6">x</tspan></text>
<path d="M166.5,150.4 L172,156.8" stroke="#222" stroke-width="0.6"/>
<path d="M5.5,143.5 L126.2,208 L258,130.5" fill="none" stroke="#333" stroke-width="0.9"/>
<path d="M11.5,142.6 L5.5,143.5 L9.6,148" fill="none" stroke="#333" stroke-width="0.9"/>
<path d="M251.8,130.4 L258,130.5 L255.2,136" fill="none" stroke="#333" stroke-width="0.9"/>
<text x="54.5" y="188.5" font-size="13.5" fill="#222">Y</text>
<text x="194.8" y="181.6" font-size="13.5" fill="#222">X</text>
<path d="M47.3,121.8 L21.1,141.5 V244" fill="none" stroke="#58ad5c" stroke-width="0.8" stroke-dasharray="3.5,3"/>
<path d="M75,101 L47.3,121.8" fill="none" stroke="#3f8a3c" stroke-width="0.7" stroke-dasharray="2.5,3.5" opacity="0.8"/>
<path d="M105,146.8 L80.8,158.6 V235" fill="none" stroke="#58ad5c" stroke-width="0.8" stroke-dasharray="3.5,3"/>
<path d="M138,130 L105,146.8" fill="none" stroke="#3f8a3c" stroke-width="0.7" stroke-dasharray="2.5,3.5" opacity="0.8"/>
<path d="M152,158 L164.3,158.6 V236.6" fill="none" stroke="#58ad5c" stroke-width="0.8" stroke-dasharray="3.5,3"/>
<path d="M126,155 L152,158" fill="none" stroke="#3f8a3c" stroke-width="0.7" stroke-dasharray="2.5,3.5" opacity="0.8"/>
<path d="M207,107 L374.4,166.1 V234" fill="none" stroke="#58ad5c" stroke-width="0.8" stroke-dasharray="3.5,3"/>
<path d="M207,134.8 L310.7,164.4 V234" fill="none" stroke="#58ad5c" stroke-width="0.8" stroke-dasharray="3.5,3"/>
<path d="M210.9,152.7 L243.5,168.6 V234" fill="none" stroke="#58ad5c" stroke-width="0.8" stroke-dasharray="3.5,3"/>
<defs>
<linearGradient id="bplane" x1="0" y1="0" x2="0" y2="1"><stop offset="0" stop-color="#e8f3e6"/><stop offset="0.5" stop-color="#dfe9ea"/><stop offset="1" stop-color="#cbd8e8"/></linearGradient>
<linearGradient id="bfront" x1="0" y1="0" x2="0" y2="1"><stop offset="0" stop-color="#fbfcfc"/><stop offset="1" stop-color="#e2e9f0"/></linearGradient>
<linearGradient id="bright" x1="0" y1="0" x2="1" y2="0"><stop offset="0" stop-color="#e2e5e8"/><stop offset="1" stop-color="#d8dce0"/></linearGradient>
</defs>
<path d="M271.5,84 L380.8,84 L415.6,54 L305.9,54 Z" fill="url(#bplane)"/>
<path d="M380.8,54 L415.6,28 L415.6,54 L380.8,84 Z" fill="url(#bright)"/>
<path d="M380.8,84 L415.6,54 L415.6,65.8 L380.8,94.5 Z" fill="#94a9b6"/>
<path d="M380.8,94.5 L415.6,65.8 L415.6,78.5 L380.8,107.2 Z" fill="#ebdfd2"/>
<rect x="271.5" y="84" width="109.30000000000001" height="10.5" fill="#a9c0e2"/>
<rect x="271.5" y="94.5" width="109.30000000000001" height="12.7" fill="#f4e8dc"/>
<ellipse cx="321.5" cy="60.6" rx="5.46" ry="2.55" fill="#eaf6e2" stroke="#86c86c" stroke-width="0.8"/>
<path d="M317.41,60.34 A4.26,1.58 0 0 1 325.59,60.34" fill="none" stroke="#80c266" stroke-width="0.6"/>
<ellipse cx="341.6" cy="60.6" rx="5.46" ry="2.55" fill="#eaf6e2" stroke="#86c86c" stroke-width="0.8"/>
<path d="M337.51,60.34 A4.26,1.58 0 0 1 345.69,60.34" fill="none" stroke="#80c266" stroke-width="0.6"/>
<ellipse cx="363" cy="60.6" rx="5.46" ry="2.55" fill="#eaf6e2" stroke="#86c86c" stroke-width="0.8"/>
<path d="M358.91,60.34 A4.26,1.58 0 0 1 367.09,60.34" fill="none" stroke="#80c266" stroke-width="0.6"/>
<ellipse cx="387.2" cy="60.6" rx="5.46" ry="2.55" fill="#eaf6e2" stroke="#86c86c" stroke-width="0.8"/>
<path d="M383.11,60.34 A4.26,1.58 0 0 1 391.29,60.34" fill="none" stroke="#80c266" stroke-width="0.6"/>
<ellipse cx="312.5" cy="70.3" rx="5.89" ry="2.75" fill="#eaf6e2" stroke="#86c86c" stroke-width="0.8"/>
<path d="M308.08,70.02 A4.59,1.71 0 0 1 316.92,70.02" fill="none" stroke="#80c266" stroke-width="0.6"/>
<ellipse cx="333.6" cy="70.3" rx="5.89" ry="2.75" fill="#eaf6e2" stroke="#86c86c" stroke-width="0.8"/>
<path d="M329.18,70.02 A4.59,1.71 0 0 1 338.02,70.02" fill="none" stroke="#80c266" stroke-width="0.6"/>
<ellipse cx="353.8" cy="70.3" rx="5.89" ry="2.75" fill="#eaf6e2" stroke="#86c86c" stroke-width="0.8"/>
<path d="M349.38,70.02 A4.59,1.71 0 0 1 358.22,70.02" fill="none" stroke="#80c266" stroke-width="0.6"/>
<ellipse cx="373.6" cy="70.3" rx="5.89" ry="2.75" fill="#eaf6e2" stroke="#86c86c" stroke-width="0.8"/>
<path d="M369.18,70.02 A4.59,1.71 0 0 1 378.02,70.02" fill="none" stroke="#80c266" stroke-width="0.6"/>
<ellipse cx="302.4" cy="82.4" rx="6.20" ry="2.90" fill="#eaf6e2" stroke="#86c86c" stroke-width="0.8"/>
<path d="M297.75,82.11 A4.84,1.80 0 0 1 307.05,82.11" fill="none" stroke="#80c266" stroke-width="0.6"/>
<ellipse cx="322.2" cy="82.4" rx="6.20" ry="2.90" fill="#eaf6e2" stroke="#86c86c" stroke-width="0.8"/>
<path d="M317.55,82.11 A4.84,1.80 0 0 1 326.85,82.11" fill="none" stroke="#80c266" stroke-width="0.6"/>
<ellipse cx="342.1" cy="82.4" rx="6.20" ry="2.90" fill="#eaf6e2" stroke="#86c86c" stroke-width="0.8"/>
<path d="M337.45,82.11 A4.84,1.80 0 0 1 346.75,82.11" fill="none" stroke="#80c266" stroke-width="0.6"/>
<ellipse cx="361.3" cy="82.4" rx="6.20" ry="2.90" fill="#eaf6e2" stroke="#86c86c" stroke-width="0.8"/>
<path d="M356.65,82.11 A4.84,1.80 0 0 1 365.95,82.11" fill="none" stroke="#80c266" stroke-width="0.6"/>
<text x="273" y="79.8" font-size="8" fill="#333">c-Si</text>
<text x="273" y="92.4" font-size="8" fill="#333">SiO<tspan dy="1.8" font-size="5">x</tspan></text>
<text x="273" y="105.2" font-size="8" fill="#333">poly-Si</text>
<path d="M321,51.5 V58.5 M341,51.5 V58.5 M322,55.3 H340" stroke="#222" stroke-width="0.6" fill="none"/>
<path d="M321.2,55.3 l2.2,-1.2 v2.4z M340.8,55.3 l-2.2,-1.2 v2.4z" fill="#222"/>
<text x="330.2" y="53.6" font-size="8" fill="#222">p</text>
<path d="M315.8,61.2 H309.8 L300.8,69.8 H294.5 M309,61.5 L302,68.5" stroke="#222" stroke-width="0.6" fill="none"/>
<path d="M309.6,61.0 l-2.6,0.6 l1.6,1.6z M301.4,69.0 l2.6,-0.6 l-1.6,-1.6z" fill="#222"/>
<text x="302" y="65.6" font-size="8" fill="#222">p</text>
<path d="M359,62.2 L368.6,59" stroke="#222" stroke-width="0.7"/>
<path d="M358.4,62.4 l2.6,-2.0 l0.5,1.5z M369.2,58.8 l-2.6,2.0 l-0.5,-1.5z" fill="#222"/>
<text x="359.4" y="56.8" font-size="8" fill="#222">2r</text>
<path d="M271.1,35.8 V21.3 M271.1,35.8 H286.6 M271.1,35.8 L281.8,26.2" stroke="#333" stroke-width="0.8" fill="none"/>
<path d="M271.1,20 l-1.3,3 h2.6z M288,35.8 l-3,-1.3 v2.6z M282.8,25.3 l-3.1,1.1 l1.8,1.9z" fill="#333"/>
<text x="272.1" y="19.2" font-size="4.8" fill="#333">z</text>
<text x="283.3" y="28" font-size="4.8" fill="#333">y</text>
<text x="288.9" y="38.2" font-size="4.8" fill="#333">x</text>
<text x="262.4" y="10" font-size="10.6" font-weight="bold" fill="#111">b</text>
<ellipse cx="548.8" cy="55" rx="84" ry="16.5" transform="rotate(-15.7 548.8 55)" fill="none" stroke="#6aa3d0" stroke-width="1" stroke-dasharray="4,3"/>
<ellipse cx="557.8" cy="119" rx="71.3" ry="16.5" transform="rotate(7 557.8 119)" fill="none" stroke="#f2b4bc" stroke-width="1" stroke-dasharray="4,3"/>
<ellipse cx="554" cy="143.5" rx="67" ry="9" fill="none" stroke="#8fdcaa" stroke-width="1" stroke-dasharray="4,3"/>
<path d="M486,60.4 H464.5 M469,57.6 L464,60.4 L469,63.2" fill="none" stroke="#7fb2da" stroke-width="0.9"/>
<path d="M621.6,117.3 H639 M634.5,114.5 L639.5,117.3 L634.5,120.1" fill="none" stroke="#f2a6ae" stroke-width="0.9"/>
<path d="M485,139.3 H464.3 M468.8,136.5 L463.8,139.3 L468.8,142.1" fill="none" stroke="#86d89c" stroke-width="0.9"/>
<path d="M504.2,69.1 V58.9 M498.9,58.9 H509.5 M504.2,88.2 V97.3 M498.9,97.3 H509.5" stroke="#4a82c0" stroke-width="1.1" fill="none"/>
<rect x="487.2" y="69.1" width="34" height="19.10000000000001" fill="#c9ddf1" fill-opacity="0.8" stroke="#4a82c0" stroke-width="1.1"/>
<circle cx="504.2" cy="79.2" r="0.7" fill="#3c6eb0"/>
<path d="M599.6,31.1 V22.4 M594.3000000000001,22.4 H604.9 M599.6,57.7 V66.4 M594.3000000000001,66.4 H604.9" stroke="#4a82c0" stroke-width="1.1" fill="none"/>
<rect x="582.6" y="31.1" width="34" height="26.6" fill="#c9ddf1" fill-opacity="0.8" stroke="#4a82c0" stroke-width="1.1"/>
<circle cx="599.6" cy="44.3" r="0.7" fill="#3c6eb0"/>
<path d="M504.4,97.9 V125.6 M499.2,97.9 H509.59999999999997 M499.2,125.6 H509.59999999999997" stroke="#e06a7c" stroke-width="1.2" fill="none"/>
<circle cx="504.4" cy="111.8" r="0.8" fill="#e06a7c"/>
<path d="M599.7,119.3 V136.5 M594.5,119.3 H604.9000000000001 M594.5,136.5 H604.9000000000001" stroke="#e06a7c" stroke-width="1.2" fill="none"/>
<circle cx="599.7" cy="127.9" r="0.8" fill="#e06a7c"/>
<path d="M484.59999999999997,141.6 L504.2,139.29999999999998 L523.8,141.6 L504.2,143.9 Z" fill="#55c568"/>
<path d="M504.2,138.6 V144.6 M499.0,138.6 H509.4 M499.0,144.6 H509.4" stroke="#4cbf60" stroke-width="1.2"/>
<path d="M579.9000000000001,140.8 L599.7,138.5 L619.5,140.8 L599.7,143.10000000000002 Z" fill="#55c568"/>
<path d="M599.7,137.8 V143.8 M594.5,137.8 H604.9000000000001 M594.5,143.8 H604.9000000000001" stroke="#4cbf60" stroke-width="1.2"/>
<path d="M456.2,16.5 H646.8" stroke="#555" stroke-width="1"/>
<path d="M456.2,171.2 H646.8" stroke="#555" stroke-width="1"/>
<path d="M456.2,16.5 V171.2" stroke="#3c6eb0" stroke-width="1.1"/>
<path d="M646.8,16.5 V171.2" stroke="#e06a7c" stroke-width="1.1"/>
<path d="M456.2,153.10 h1.8 M456.2,139.44 h1 M456.2,125.78 h1.8 M456.2,112.12 h1 M456.2,98.46 h1.8 M456.2,84.80 h1 M456.2,71.14 h1.8 M456.2,57.48 h1 M456.2,43.82 h1.8 M456.2,30.16 h1 M456.2,16.50 h1.8" stroke="#3c6eb0" stroke-width="0.8"/>
<path d="M646.8,148.00 h-1.8 M646.8,104.30 h-1.8 M646.8,60.60 h-1.8 M646.8,16.90 h-1.8 M646.8,169.85 h-1 M646.8,126.15 h-1 M646.8,82.45 h-1 M646.8,38.75 h-1" stroke="#e06a7c" stroke-width="0.8"/>
<path d="M504.2,171.2 v-2.5 M599.6,171.2 v-2.5" stroke="#555" stroke-width="0.8"/>
<text x="452.4" y="157.20" text-anchor="end" font-size="11.2" fill="#3c6eb0">1</text>
<text x="452.4" y="129.88" text-anchor="end" font-size="11.2" fill="#3c6eb0">2</text>
<text x="452.4" y="102.56" text-anchor="end" font-size="11.2" fill="#3c6eb0">3</text>
<text x="452.4" y="75.24" text-anchor="end" font-size="11.2" fill="#3c6eb0">4</text>
<text x="452.4" y="47.92" text-anchor="end" font-size="11.2" fill="#3c6eb0">5</text>
<text x="452.4" y="20.60" text-anchor="end" font-size="11.2" fill="#3c6eb0">6</text>
<text x="650.4" y="152.10" font-size="11.2" fill="#c2456a">0.0</text>
<text x="650.4" y="108.40" font-size="11.2" fill="#c2456a">0.2</text>
<text x="650.4" y="64.70" font-size="11.2" fill="#c2456a">0.4</text>
<text x="650.4" y="21.00" font-size="11.2" fill="#c2456a">0.6</text>
<text transform="translate(436.4,89.3) rotate(-90)" text-anchor="middle" font-size="13" fill="#3c6eb0">Size (nm)</text>
<text transform="translate(681.6,79.3) rotate(-90)" text-anchor="middle" font-size="12.6" fill="#c2456a">f=πr<tspan dy="-4" font-size="7.5">2</tspan><tspan dy="4">/p</tspan><tspan dy="-4" font-size="7.5">2</tspan></text>
<text x="503" y="189.8" text-anchor="middle" font-size="13" fill="#222">Control</text>
<text x="595.3" y="189.8" text-anchor="middle" font-size="13" fill="#222">Passivating pinhole</text>
<path d="M465,22.4 H474.5" stroke="#4cc36a" stroke-width="1.4"/><path d="M466.5,22.4 L469.7,20.6 L472.9,22.4 L469.7,24.2Z" fill="#4cc36a"/>
<text x="477.2" y="25.2" font-size="7.2" fill="#3ab25a">2r</text>
<rect x="465.2" y="29.3" width="9" height="4.6" fill="none" stroke="#4a82c0" stroke-width="0.9"/><path d="M469.7,27.3 V29.3 M468,27.3 H471.4 M469.7,33.9 V35.6 M468,35.6 H471.4" stroke="#4a82c0" stroke-width="0.8"/><circle cx="469.7" cy="31.6" r="0.6" fill="#3c6eb0"/>
<text x="477.2" y="33.6" font-size="7.2" fill="#3c6eb0">p</text>
<path d="M466.2,39.8 H473.2 M466.2,44.7 H473.2 M469.7,39.8 V44.7" stroke="#e06a7c" stroke-width="0.9"/><circle cx="469.7" cy="42.2" r="1.5" fill="#d8405a"/>
<text x="477.5" y="45" font-size="7.2" fill="#c2456a">f</text>
<defs>
<pattern id="lat" width="4" height="2" patternUnits="userSpaceOnUse" >
<rect width="4" height="2" fill="#6b6b6b"/><rect width="2" height="1" fill="#939393"/><rect x="2" y="1" width="2" height="1" fill="#939393"/></pattern>
<pattern id="lat2" width="4" height="2" patternUnits="userSpaceOnUse" >
<rect width="4" height="2" fill="#4e4e4e"/><rect width="2" height="1" fill="#757575"/><rect x="2" y="1" width="2" height="1" fill="#757575"/></pattern>
<linearGradient id="topg" x1="0" y1="0" x2="0" y2="1"><stop offset="0" stop-color="#2a2a2a"/><stop offset="0.75" stop-color="#303030"/><stop offset="1" stop-color="#252525"/></linearGradient>
<pattern id="lat3" width="4" height="2" patternUnits="userSpaceOnUse"><rect width="4" height="2" fill="#555555"/><rect width="2" height="1" fill="#7a7a7a"/><rect x="2" y="1" width="2" height="1" fill="#7a7a7a"/></pattern>
<linearGradient id="topg3" x1="0" y1="0" x2="0" y2="1"><stop offset="0" stop-color="#424242"/><stop offset="0.75" stop-color="#474747"/><stop offset="1" stop-color="#383838"/></linearGradient>
<linearGradient id="topgb" x1="0" y1="0" x2="0" y2="1"><stop offset="0" stop-color="#303030"/><stop offset="0.75" stop-color="#353535"/><stop offset="1" stop-color="#2a2a2a"/></linearGradient>
<linearGradient id="topg2" x1="0" y1="0" x2="0" y2="1"><stop offset="0" stop-color="#2b2b2b"/><stop offset="0.75" stop-color="#313131"/><stop offset="1" stop-color="#272727"/></linearGradient>
</defs>
<rect x="6.6" y="237.8" width="201.6" height="70.0" fill="none" stroke="#8a8a8a" stroke-width="1" stroke-dasharray="5,5.5" rx="2"/>
<rect x="10.1" y="241.2" width="63.5" height="63.8" fill="url(#topg)"/>
<path d="M10.1,271.4 L73.6,271.4 L73.6,305 L10.1,305 Z" fill="url(#lat)"/>
<path d="M10.1,265.40000000000003 L73.6,265.40000000000003 L73.6,271.5 L10.1,271.5 Z" fill="#121212"/>
<path d="M10.1,265.8 L73.6,265.8 M10.1,270.9 L73.6,270.9" stroke="#a6a83a" stroke-width="0.75" stroke-dasharray="2.6,2.4"/>
<path d="M46.0,266.6 v1.6 M49.0,266.6 v1.6 M46.5,270.0 h2" stroke="#b8242c" stroke-width="0.7" opacity="0.75"/>
<path d="M22.0,266.6 v1.6 M25.0,266.6 v1.6 M22.5,270.0 h2" stroke="#b8242c" stroke-width="0.7" opacity="0.75"/>
<rect x="10.7" y="299.6" width="18.6" height="4.6" fill="#fff" stroke="#222" stroke-width="0.4"/>
<path d="M11.9,301.9 h16" stroke="#555" stroke-width="0.6"/>
<rect x="75.4" y="241.2" width="63.8" height="63.8" fill="url(#topg)"/>
<path d="M75.4,271.3 L139.2,271.3 L139.2,305 L75.4,305 Z" fill="url(#lat)"/>
<path d="M75.4,265.20000000000005 L139.2,265.20000000000005 L139.2,271.40000000000003 L75.4,271.40000000000003 Z" fill="#121212"/>
<path d="M75.4,265.6 L139.2,265.6 M75.4,270.8 L139.2,270.8" stroke="#a6a83a" stroke-width="0.75" stroke-dasharray="2.6,2.4"/>
<path d="M105.3,266.4 v1.6 M108.3,266.4 v1.6 M105.8,269.8 h2" stroke="#b8242c" stroke-width="0.7" opacity="0.75"/>
<path d="M110.9,266.4 v1.6 M113.9,266.4 v1.6 M111.4,269.8 h2" stroke="#b8242c" stroke-width="0.7" opacity="0.75"/>
<path d="M112.2,266.4 v1.6 M115.2,266.4 v1.6 M112.7,269.8 h2" stroke="#b8242c" stroke-width="0.7" opacity="0.75"/>
<path d="M128.0,266.4 v1.6 M131.0,266.4 v1.6 M128.5,269.8 h2" stroke="#b8242c" stroke-width="0.7" opacity="0.75"/>
<rect x="76.0" y="299.6" width="18.6" height="4.6" fill="#fff" stroke="#222" stroke-width="0.4"/>
<path d="M77.2,301.9 h16" stroke="#555" stroke-width="0.6"/>
<rect x="141" y="241.2" width="63.6" height="63.8" fill="url(#topg)"/>
<path d="M141,274.1 L204.6,274.1 L204.6,305 L141,305 Z" fill="url(#lat)"/>
<path d="M141,267.8 L204.6,267.8 L204.6,274.20000000000005 L141,274.20000000000005 Z" fill="#121212"/>
<path d="M141,268.2 L204.6,268.2 M141,273.6 L204.6,273.6" stroke="#a6a83a" stroke-width="0.75" stroke-dasharray="2.6,2.4"/>
<path d="M159.6,269.0 v1.6 M162.6,269.0 v1.6 M160.1,272.4 h2" stroke="#b8242c" stroke-width="0.7" opacity="0.75"/>
<path d="M158.3,269.0 v1.6 M161.3,269.0 v1.6 M158.8,272.4 h2" stroke="#b8242c" stroke-width="0.7" opacity="0.75"/>
<path d="M198.0,269.0 v1.6 M201.0,269.0 v1.6 M198.5,272.4 h2" stroke="#b8242c" stroke-width="0.7" opacity="0.75"/>
<rect x="141.6" y="299.6" width="18.6" height="4.6" fill="#fff" stroke="#222" stroke-width="0.4"/>
<path d="M142.8,301.9 h16" stroke="#555" stroke-width="0.6"/>
<rect x="212.7" y="237.7" width="198.3" height="69.69999999999999" fill="none" stroke="#8a8a8a" stroke-width="1" stroke-dasharray="5,5.5" rx="2"/>
<rect x="215.7" y="240.8" width="63.5" height="63.5" fill="url(#topgb)"/>
<path d="M215.7,271.1 L279.2,271.1 L279.2,304.3 L215.7,304.3 Z" fill="url(#lat)"/>
<path d="M215.7,264.8 L279.2,264.8 L279.2,271.20000000000005 L215.7,271.20000000000005 Z" fill="#121212"/>
<path d="M215.7,265.2 L279.2,265.2 M215.7,270.6 L279.2,270.6" stroke="#a6a83a" stroke-width="0.75" stroke-dasharray="2.6,2.4"/>
<path d="M248.9,266.0 v1.6 M251.9,266.0 v1.6 M249.4,269.4 h2" stroke="#b8242c" stroke-width="0.7" opacity="0.75"/>
<path d="M249.4,266.0 v1.6 M252.4,266.0 v1.6 M249.9,269.4 h2" stroke="#b8242c" stroke-width="0.7" opacity="0.75"/>
<path d="M241.5,266.0 v1.6 M244.5,266.0 v1.6 M242.0,269.4 h2" stroke="#b8242c" stroke-width="0.7" opacity="0.75"/>
<rect x="216.3" y="298.9" width="18.6" height="4.6" fill="#fff" stroke="#222" stroke-width="0.4"/>
<path d="M217.5,301.2 h16" stroke="#555" stroke-width="0.6"/>
<rect x="281" y="240.8" width="63.3" height="63.5" fill="url(#topgb)"/>
<path d="M281,271.1 L344.3,271.1 L344.3,304.3 L281,304.3 Z" fill="url(#lat)"/>
<path d="M281,264.8 L344.3,264.8 L344.3,271.20000000000005 L281,271.20000000000005 Z" fill="#121212"/>
<path d="M281,265.2 L344.3,265.2 M281,270.6 L344.3,270.6" stroke="#a6a83a" stroke-width="0.75" stroke-dasharray="2.6,2.4"/>
<path d="M298.1,266.0 v1.6 M301.1,266.0 v1.6 M298.6,269.4 h2" stroke="#b8242c" stroke-width="0.7" opacity="0.75"/>
<path d="M293.9,266.0 v1.6 M296.9,266.0 v1.6 M294.4,269.4 h2" stroke="#b8242c" stroke-width="0.7" opacity="0.75"/>
<rect x="281.6" y="298.9" width="18.6" height="4.6" fill="#fff" stroke="#222" stroke-width="0.4"/>
<path d="M282.8,301.2 h16" stroke="#555" stroke-width="0.6"/>
<rect x="346" y="240.8" width="63.0" height="63.5" fill="url(#topgb)"/>
<path d="M346,271.1 L409,271.1 L409,304.3 L346,304.3 Z" fill="url(#lat)"/>
<path d="M346,264.8 L409,264.8 L409,271.20000000000005 L346,271.20000000000005 Z" fill="#121212"/>
<path d="M346,265.2 L409,265.2 M346,270.6 L409,270.6" stroke="#a6a83a" stroke-width="0.75" stroke-dasharray="2.6,2.4"/>
<path d="M371.2,266.0 v1.6 M374.2,266.0 v1.6 M371.7,269.4 h2" stroke="#b8242c" stroke-width="0.7" opacity="0.75"/>
<path d="M351.8,266.0 v1.6 M354.8,266.0 v1.6 M352.3,269.4 h2" stroke="#b8242c" stroke-width="0.7" opacity="0.75"/>
<path d="M391.2,266.0 v1.6 M394.2,266.0 v1.6 M391.7,269.4 h2" stroke="#b8242c" stroke-width="0.7" opacity="0.75"/>
<path d="M359.3,266.0 v1.6 M362.3,266.0 v1.6 M359.8,269.4 h2" stroke="#b8242c" stroke-width="0.7" opacity="0.75"/>
<rect x="346.6" y="298.9" width="18.6" height="4.6" fill="#fff" stroke="#222" stroke-width="0.4"/>
<path d="M347.8,301.2 h16" stroke="#555" stroke-width="0.6"/>
<rect x="6.6" y="321.8" width="201.8" height="73.80000000000001" fill="none" stroke="#8a8a8a" stroke-width="1" stroke-dasharray="5,5.5" rx="2"/>
<rect x="8.7" y="326.1" width="64.7" height="64.5" fill="url(#topg3)"/>
<path d="M8.7,358.3 L73.4,355.8 L73.4,390.6 L8.7,390.6 Z" fill="url(#lat3)"/>
<path d="M8.7,352.3 L73.4,349.8 L73.4,355.90000000000003 L8.7,358.40000000000003 Z" fill="#121212"/>
<path d="M8.7,352.7 L73.4,350.2 M8.7,357.8 L73.4,355.3" stroke="#a6a83a" stroke-width="0.75" stroke-dasharray="2.6,2.4"/>
<path d="M16.1,353.2 v1.6 M19.1,353.2 v1.6 M16.6,356.6 h2" stroke="#b8242c" stroke-width="0.7" opacity="0.75"/>
<path d="M55.3,351.7 v1.6 M58.3,351.7 v1.6 M55.8,355.1 h2" stroke="#b8242c" stroke-width="0.7" opacity="0.75"/>
<path d="M57.6,351.6 v1.6 M60.6,351.6 v1.6 M58.1,355.0 h2" stroke="#b8242c" stroke-width="0.7" opacity="0.75"/>
<path d="M28.2,352.7 v1.6 M31.2,352.7 v1.6 M28.7,356.1 h2" stroke="#b8242c" stroke-width="0.7" opacity="0.75"/>
<rect x="9.3" y="385.2" width="18.6" height="4.6" fill="#fff" stroke="#222" stroke-width="0.4"/>
<path d="M10.5,387.5 h16" stroke="#555" stroke-width="0.6"/>
<rect x="75.1" y="326.1" width="64.4" height="64.5" fill="url(#topg3)"/>
<path d="M75.1,363.0 L139.5,363.0 L139.5,390.6 L75.1,390.6 Z" fill="url(#lat3)"/>
<path d="M75.1,357.0 L139.5,357.0 L139.5,363.1 L75.1,363.1 Z" fill="#121212"/>
<path d="M75.1,357.4 L139.5,357.4 M75.1,362.5 L139.5,362.5" stroke="#a6a83a" stroke-width="0.75" stroke-dasharray="2.6,2.4"/>
<path d="M118.2,358.2 v1.6 M121.2,358.2 v1.6 M118.7,361.6 h2" stroke="#b8242c" stroke-width="0.7" opacity="0.75"/>
<path d="M126.7,358.2 v1.6 M129.7,358.2 v1.6 M127.2,361.6 h2" stroke="#b8242c" stroke-width="0.7" opacity="0.75"/>
<path d="M118.0,358.2 v1.6 M121.0,358.2 v1.6 M118.5,361.6 h2" stroke="#b8242c" stroke-width="0.7" opacity="0.75"/>
<path d="M128.9,358.2 v1.6 M131.9,358.2 v1.6 M129.4,361.6 h2" stroke="#b8242c" stroke-width="0.7" opacity="0.75"/>
<rect x="75.7" y="385.2" width="18.6" height="4.6" fill="#fff" stroke="#222" stroke-width="0.4"/>
<path d="M76.9,387.5 h16" stroke="#555" stroke-width="0.6"/>
<rect x="141" y="326.1" width="65.0" height="64.5" fill="url(#topg3)"/>
<path d="M141,364.5 L206,364.5 L206,390.6 L141,390.6 Z" fill="url(#lat3)"/>
<path d="M141,358.40000000000003 L206,358.40000000000003 L206,364.6 L141,364.6 Z" fill="#121212"/>
<path d="M141,358.8 L206,358.8 M141,364 L206,364" stroke="#a6a83a" stroke-width="0.75" stroke-dasharray="2.6,2.4"/>
<path d="M185.0,359.6 v1.6 M188.0,359.6 v1.6 M185.5,363.0 h2" stroke="#b8242c" stroke-width="0.7" opacity="0.75"/>
<path d="M176.9,359.6 v1.6 M179.9,359.6 v1.6 M177.4,363.0 h2" stroke="#b8242c" stroke-width="0.7" opacity="0.75"/>
<path d="M197.6,359.6 v1.6 M200.6,359.6 v1.6 M198.1,363.0 h2" stroke="#b8242c" stroke-width="0.7" opacity="0.75"/>
<rect x="141.6" y="385.2" width="18.6" height="4.6" fill="#fff" stroke="#222" stroke-width="0.4"/>
<path d="M142.8,387.5 h16" stroke="#555" stroke-width="0.6"/>
<rect x="211.1" y="321.8" width="201.70000000000002" height="73.39999999999998" fill="none" stroke="#8a8a8a" stroke-width="1" stroke-dasharray="5,5.5" rx="2"/>
<rect x="214.2" y="326.6" width="64.4" height="64.2" fill="url(#topg2)"/>
<path d="M214.2,367.5 L278.6,367.5 L278.6,390.8 L214.2,390.8 Z" fill="url(#lat2)"/>
<path d="M214.2,361.8 L278.6,361.8 L278.6,367.6 L214.2,367.6 Z" fill="#121212"/>
<path d="M214.2,362.2 L278.6,362.2 M214.2,367 L278.6,367" stroke="#a6a83a" stroke-width="0.75" stroke-dasharray="2.6,2.4"/>
<path d="M265.8,363.0 v1.6 M268.8,363.0 v1.6 M266.3,366.4 h2" stroke="#b8242c" stroke-width="0.7" opacity="0.75"/>
<path d="M224.5,363.0 v1.6 M227.5,363.0 v1.6 M225.0,366.4 h2" stroke="#b8242c" stroke-width="0.7" opacity="0.75"/>
<rect x="214.8" y="385.4" width="18.6" height="4.6" fill="#fff" stroke="#222" stroke-width="0.4"/>
<path d="M216.0,387.7 h16" stroke="#555" stroke-width="0.6"/>
<rect x="280.1" y="326.6" width="64.4" height="64.2" fill="url(#topg2)"/>
<path d="M280.1,364.0 L344.5,364.0 L344.5,390.8 L280.1,390.8 Z" fill="url(#lat2)"/>
<path d="M280.1,357.90000000000003 L344.5,357.90000000000003 L344.5,364.1 L280.1,364.1 Z" fill="#121212"/>
<path d="M280.1,358.3 L344.5,358.3 M280.1,363.5 L344.5,363.5" stroke="#a6a83a" stroke-width="0.75" stroke-dasharray="2.6,2.4"/>
<path d="M311.4,359.1 v1.6 M314.4,359.1 v1.6 M311.9,362.5 h2" stroke="#b8242c" stroke-width="0.7" opacity="0.75"/>
<path d="M298.9,359.1 v1.6 M301.9,359.1 v1.6 M299.4,362.5 h2" stroke="#b8242c" stroke-width="0.7" opacity="0.75"/>
<rect x="280.7" y="385.4" width="18.6" height="4.6" fill="#fff" stroke="#222" stroke-width="0.4"/>
<path d="M281.9,387.7 h16" stroke="#555" stroke-width="0.6"/>
<rect x="346" y="326.6" width="63.8" height="64.2" fill="url(#topg2)"/>
<path d="M346,359.9 L409.8,359.9 L409.8,390.8 L346,390.8 Z" fill="url(#lat2)"/>
<path d="M346,354.20000000000005 L409.8,354.20000000000005 L409.8,360.0 L346,360.0 Z" fill="#121212"/>
<path d="M346,354.6 L409.8,354.6 M346,359.4 L409.8,359.4" stroke="#a6a83a" stroke-width="0.75" stroke-dasharray="2.6,2.4"/>
<path d="M373.9,355.4 v1.6 M376.9,355.4 v1.6 M374.4,358.8 h2" stroke="#b8242c" stroke-width="0.7" opacity="0.75"/>
<path d="M383.9,355.4 v1.6 M386.9,355.4 v1.6 M384.4,358.8 h2" stroke="#b8242c" stroke-width="0.7" opacity="0.75"/>
<path d="M366.9,355.4 v1.6 M369.9,355.4 v1.6 M367.4,358.8 h2" stroke="#b8242c" stroke-width="0.7" opacity="0.75"/>
<path d="M377.6,355.4 v1.6 M380.6,355.4 v1.6 M378.1,358.8 h2" stroke="#b8242c" stroke-width="0.7" opacity="0.75"/>
<rect x="346.6" y="385.4" width="18.6" height="4.6" fill="#fff" stroke="#222" stroke-width="0.4"/>
<path d="M347.8,387.7 h16" stroke="#555" stroke-width="0.6"/>
<text x="1.1" y="214.5" font-size="10.6" font-weight="bold" fill="#111">c</text>
<text x="6" y="225.8" font-size="9" fill="#222">Y-axis direction :</text>
<text x="6" y="234.8" font-size="9" fill="#222">passivating pinhole</text>
<text x="214.8" y="225.6" font-size="9" fill="#222">X-axis direction :</text>
<text x="5.5" y="319.6" font-size="9" fill="#222">control</text>
<path d="M459.41,344.64 L460.34,344.64 L461.26,344.64 L462.19,344.64 L463.11,344.64 L464.04,344.64 L464.96,344.63 L465.89,344.63 L466.81,344.63 L467.74,344.63 L468.66,344.62 L469.59,344.62 L470.51,344.62 L471.44,344.61 L472.36,344.61 L473.29,344.60 L474.21,344.60 L475.14,344.60 L476.06,344.59 L476.99,344.58 L477.91,344.58 L478.84,344.57 L479.76,344.56 L480.69,344.55 L481.61,344.55 L482.54,344.54 L483.46,344.53 L484.39,344.51 L485.31,344.50 L486.24,344.49 L487.16,344.47 L488.09,344.46 L489.01,344.44 L489.94,344.42 L490.86,344.40 L491.79,344.38 L492.71,344.35 L493.64,344.33 L494.56,344.30 L495.49,344.27 L496.41,344.24 L497.34,344.20 L498.26,344.16 L499.19,344.12 L500.11,344.07 L501.04,344.02 L501.96,343.97 L502.89,343.91 L503.81,343.85 L504.74,343.78 L505.66,343.70 L506.59,343.62 L507.51,343.54 L508.44,343.44 L509.36,343.34 L510.29,343.23 L511.21,343.11 L512.14,342.98 L513.06,342.85 L513.98,342.70 L514.91,342.54 L515.83,342.36 L516.76,342.17 L517.68,341.97 L518.61,341.76 L519.53,341.52 L520.46,341.27 L521.38,341.00 L522.31,340.71 L523.23,340.40 L524.16,340.07 L525.08,339.72 L526.01,339.34 L526.93,338.94 L527.86,338.50 L528.78,338.04 L529.71,337.56 L530.63,337.04 L531.56,336.49 L532.48,335.90 L533.41,335.29 L534.33,334.64 L535.26,333.95 L536.18,333.23 L537.11,332.47 L538.03,331.67 L538.96,330.83 L539.88,329.96 L540.81,329.05 L541.73,328.10 L542.66,327.11 L543.58,326.09 L544.51,325.02 L545.43,323.92 L546.36,322.78 L547.28,321.61 L548.21,320.40 L549.13,319.16 L550.06,317.89 L550.98,316.58 L551.91,315.24 L552.83,313.88 L553.76,312.48 L554.68,311.06 L555.61,309.62 L556.53,308.15 L557.46,306.66 L558.38,305.15 L559.31,303.62 L560.23,302.07 L561.16,300.51 L562.08,298.93 L563.01,297.35 L563.93,295.74 L564.86,294.13 L565.78,292.51 L566.71,290.89 L567.63,289.26 L568.56,287.62 L569.48,285.98 L570.41,284.34 L571.33,282.70 L572.26,281.06 L573.18,279.43 L574.11,277.80 L575.03,276.17 L575.96,274.56 L576.88,272.95 L577.81,271.35 L578.73,269.76 L579.65,268.19 L580.58,266.63 L581.50,265.09 L582.43,263.56 L583.35,262.06 L584.28,260.57 L585.20,259.11 L586.13,257.67 L587.05,256.26 L587.98,254.87 L588.90,253.52 L589.83,252.19 L590.75,250.89 L591.68,249.62 L592.60,248.39 L593.53,247.19 L594.45,246.02 L595.38,244.90 L596.30,243.81 L597.23,242.75 L598.15,241.73 L599.08,240.76 L600.00,239.82 L600.93,238.91 L601.85,238.05 L602.78,237.23 L603.70,236.44 L604.63,235.69 L605.55,234.97 L606.48,234.30 L607.40,233.66 L608.33,233.05 L609.25,232.47 L610.18,231.93 L611.10,231.42 L612.03,230.94 L612.95,230.49 L613.88,230.06 L614.80,229.66 L615.73,229.29 L616.65,228.94 L617.58,228.62 L618.50,228.31 L619.43,228.03 L620.35,227.77 L621.28,227.52 L622.20,227.29 L623.13,227.08 L624.05,226.88 L624.98,226.70 L625.90,226.53 L626.83,226.37 L627.75,226.22 L628.68,226.09 L629.60,225.96 L630.53,225.84 L631.45,225.74 L632.38,225.64 L633.30,225.54 L634.23,225.46 L635.15,225.38 L636.08,225.31 L637.00,225.24 L637.93,225.18 L638.85,225.12 L639.78,225.07 L640.70,225.02 L641.63,224.97 L642.55,224.93 L643.48,224.90 L644.40,224.86" fill="none" stroke="#c4eedd" stroke-width="1.0"/>
<path d="M459.41,346.68 L460.34,346.67 L461.26,346.65 L462.19,346.63 L463.11,346.61 L464.04,346.59 L464.96,346.57 L465.89,346.55 L466.81,346.52 L467.74,346.49 L468.66,346.46 L469.59,346.43 L470.51,346.39 L471.44,346.35 L472.36,346.31 L473.29,346.26 L474.21,346.21 L475.14,346.16 L476.06,346.10 L476.99,346.04 L477.91,345.97 L478.84,345.89 L479.76,345.81 L480.69,345.73 L481.61,345.63 L482.54,345.53 L483.46,345.42 L484.39,345.30 L485.31,345.17 L486.24,345.03 L487.16,344.88 L488.09,344.72 L489.01,344.55 L489.94,344.36 L490.86,344.16 L491.79,343.94 L492.71,343.70 L493.64,343.45 L494.56,343.18 L495.49,342.89 L496.41,342.58 L497.34,342.25 L498.26,341.89 L499.19,341.51 L500.11,341.11 L501.04,340.68 L501.96,340.21 L502.89,339.72 L503.81,339.20 L504.74,338.65 L505.66,338.07 L506.59,337.45 L507.51,336.79 L508.44,336.11 L509.36,335.38 L510.29,334.62 L511.21,333.82 L512.14,332.98 L513.06,332.11 L513.98,331.19 L514.91,330.24 L515.83,329.25 L516.76,328.22 L517.68,327.15 L518.61,326.05 L519.53,324.91 L520.46,323.73 L521.38,322.52 L522.31,321.28 L523.23,320.00 L524.16,318.69 L525.08,317.35 L526.01,315.98 L526.93,314.58 L527.86,313.16 L528.78,311.71 L529.71,310.24 L530.63,308.74 L531.56,307.23 L532.48,305.69 L533.41,304.14 L534.33,302.57 L535.26,300.99 L536.18,299.39 L537.11,297.79 L538.03,296.17 L538.96,294.54 L539.88,292.91 L540.81,291.26 L541.73,289.62 L542.66,287.97 L543.58,286.32 L544.51,284.67 L545.43,283.02 L546.36,281.37 L547.28,279.73 L548.21,278.09 L549.13,276.45 L550.06,274.83 L550.98,273.21 L551.91,271.60 L552.83,270.01 L553.76,268.43 L554.68,266.87 L555.61,265.32 L556.53,263.79 L557.46,262.28 L558.38,260.78 L559.31,259.32 L560.23,257.87 L561.16,256.45 L562.08,255.06 L563.01,253.70 L563.93,252.36 L564.86,251.06 L565.78,249.79 L566.71,248.55 L567.63,247.34 L568.56,246.18 L569.48,245.04 L570.41,243.95 L571.33,242.89 L572.26,241.86 L573.18,240.88 L574.11,239.94 L575.03,239.03 L575.96,238.16 L576.88,237.33 L577.81,236.54 L578.73,235.78 L579.65,235.07 L580.58,234.38 L581.50,233.74 L582.43,233.13 L583.35,232.55 L584.28,232.00 L585.20,231.49 L586.13,231.00 L587.05,230.55 L587.98,230.12 L588.90,229.72 L589.83,229.34 L590.75,228.99 L591.68,228.67 L592.60,228.36 L593.53,228.07 L594.45,227.81 L595.38,227.56 L596.30,227.33 L597.23,227.11 L598.15,226.91 L599.08,226.73 L600.00,226.56 L600.93,226.40 L601.85,226.25 L602.78,226.11 L603.70,225.99 L604.63,225.87 L605.55,225.76 L606.48,225.66 L607.40,225.57 L608.33,225.48 L609.25,225.40 L610.18,225.33 L611.10,225.26 L612.03,225.20 L612.95,225.14 L613.88,225.09 L614.80,225.04 L615.73,224.99 L616.65,224.95 L617.58,224.91 L618.50,224.88 L619.43,224.84 L620.35,224.81 L621.28,224.78 L622.20,224.76 L623.13,224.73 L624.05,224.71 L624.98,224.69 L625.90,224.67 L626.83,224.66 L627.75,224.64 L628.68,224.63 L629.60,224.61 L630.53,224.60 L631.45,224.59 L632.38,224.58 L633.30,224.57 L634.23,224.56 L635.15,224.55 L636.08,224.54 L637.00,224.54 L637.93,224.53 L638.85,224.53 L639.78,224.52 L640.70,224.52 L641.63,224.51 L642.55,224.51 L643.48,224.50 L644.40,224.50" fill="none" stroke="#94dcc2" stroke-width="1.3" stroke-dasharray="4,3"/>
<path d="M459.41,351.98 L460.34,351.92 L461.26,351.86 L462.19,351.80 L463.11,351.73 L464.04,351.65 L464.96,351.57 L465.89,351.48 L466.81,351.38 L467.74,351.28 L468.66,351.16 L469.59,351.04 L470.51,350.91 L471.44,350.77 L472.36,350.61 L473.29,350.45 L474.21,350.27 L475.14,350.07 L476.06,349.87 L476.99,349.64 L477.91,349.40 L478.84,349.14 L479.76,348.87 L480.69,348.57 L481.61,348.25 L482.54,347.91 L483.46,347.55 L484.39,347.16 L485.31,346.74 L486.24,346.30 L487.16,345.83 L488.09,345.33 L489.01,344.79 L489.94,344.23 L490.86,343.63 L491.79,343.00 L492.71,342.34 L493.64,341.63 L494.56,340.89 L495.49,340.12 L496.41,339.30 L497.34,338.45 L498.26,337.56 L499.19,336.63 L500.11,335.66 L501.04,334.66 L501.96,333.61 L502.89,332.53 L503.81,331.41 L504.74,330.26 L505.66,329.07 L506.59,327.84 L507.51,326.58 L508.44,325.28 L509.36,323.96 L510.29,322.60 L511.21,321.22 L512.14,319.81 L513.06,318.37 L513.98,316.90 L514.91,315.41 L515.83,313.90 L516.76,312.37 L517.68,310.82 L518.61,309.25 L519.53,307.67 L520.46,306.07 L521.38,304.45 L522.31,302.83 L523.23,301.19 L524.16,299.54 L525.08,297.89 L526.01,296.23 L526.93,294.56 L527.86,292.88 L528.78,291.21 L529.71,289.53 L530.63,287.85 L531.56,286.17 L532.48,284.50 L533.41,282.82 L534.33,281.15 L535.26,279.49 L536.18,277.83 L537.11,276.19 L538.03,274.55 L538.96,272.92 L539.88,271.30 L540.81,269.70 L541.73,268.11 L542.66,266.54 L543.58,264.99 L544.51,263.45 L545.43,261.94 L546.36,260.45 L547.28,258.98 L548.21,257.54 L549.13,256.12 L550.06,254.73 L550.98,253.37 L551.91,252.04 L552.83,250.74 L553.76,249.48 L554.68,248.24 L555.61,247.05 L556.53,245.89 L557.46,244.76 L558.38,243.67 L559.31,242.62 L560.23,241.61 L561.16,240.64 L562.08,239.70 L563.01,238.80 L563.93,237.95 L564.86,237.13 L565.78,236.34 L566.71,235.60 L567.63,234.89 L568.56,234.22 L569.48,233.58 L570.41,232.98 L571.33,232.41 L572.26,231.87 L573.18,231.37 L574.11,230.89 L575.03,230.45 L575.96,230.03 L576.88,229.63 L577.81,229.26 L578.73,228.92 L579.65,228.60 L580.58,228.30 L581.50,228.02 L582.43,227.76 L583.35,227.51 L584.28,227.29 L585.20,227.08 L586.13,226.88 L587.05,226.70 L587.98,226.53 L588.90,226.38 L589.83,226.23 L590.75,226.10 L591.68,225.97 L592.60,225.86 L593.53,225.75 L594.45,225.66 L595.38,225.56 L596.30,225.48 L597.23,225.40 L598.15,225.33 L599.08,225.27 L600.00,225.20 L600.93,225.15 L601.85,225.10 L602.78,225.05 L603.70,225.00 L604.63,224.96 L605.55,224.92 L606.48,224.89 L607.40,224.86 L608.33,224.83 L609.25,224.80 L610.18,224.78 L611.10,224.75 L612.03,224.73 L612.95,224.71 L613.88,224.69 L614.80,224.68 L615.73,224.66 L616.65,224.65 L617.58,224.63 L618.50,224.62 L619.43,224.61 L620.35,224.60 L621.28,224.59 L622.20,224.58 L623.13,224.58 L624.05,224.57 L624.98,224.56 L625.90,224.55 L626.83,224.55 L627.75,224.54 L628.68,224.54 L629.60,224.53 L630.53,224.53 L631.45,224.53 L632.38,224.52 L633.30,224.52 L634.23,224.52 L635.15,224.51 L636.08,224.51 L637.00,224.51 L637.93,224.51 L638.85,224.50 L639.78,224.50 L640.70,224.50 L641.63,224.50 L642.55,224.50 L643.48,224.50 L644.40,224.50" fill="none" stroke="#45c09e" stroke-width="1.6"/>
<path d="M459.41,356.95 L460.34,356.85 L461.26,356.73 L462.19,356.61 L463.11,356.48 L464.04,356.34 L464.96,356.19 L465.89,356.02 L466.81,355.85 L467.74,355.66 L468.66,355.45 L469.59,355.23 L470.51,354.99 L471.44,354.74 L472.36,354.46 L473.29,354.17 L474.21,353.86 L475.14,353.52 L476.06,353.16 L476.99,352.77 L477.91,352.36 L478.84,351.92 L479.76,351.46 L480.69,350.96 L481.61,350.43 L482.54,349.87 L483.46,349.28 L484.39,348.66 L485.31,348.00 L486.24,347.30 L487.16,346.57 L488.09,345.80 L489.01,344.99 L489.94,344.14 L490.86,343.26 L491.79,342.33 L492.71,341.37 L493.64,340.37 L494.56,339.33 L495.49,338.25 L496.41,337.14 L497.34,335.98 L498.26,334.80 L499.19,333.57 L500.11,332.31 L501.04,331.02 L501.96,329.70 L502.89,328.35 L503.81,326.96 L504.74,325.55 L505.66,324.11 L506.59,322.64 L507.51,321.15 L508.44,319.64 L509.36,318.11 L510.29,316.55 L511.21,314.98 L512.14,313.39 L513.06,311.78 L513.98,310.16 L514.91,308.52 L515.83,306.88 L516.76,305.22 L517.68,303.55 L518.61,301.87 L519.53,300.19 L520.46,298.50 L521.38,296.80 L522.31,295.11 L523.23,293.41 L524.16,291.70 L525.08,290.00 L526.01,288.30 L526.93,286.60 L527.86,284.90 L528.78,283.21 L529.71,281.52 L530.63,279.84 L531.56,278.17 L532.48,276.51 L533.41,274.86 L534.33,273.22 L535.26,271.59 L536.18,269.98 L537.11,268.38 L538.03,266.80 L538.96,265.23 L539.88,263.69 L540.81,262.17 L541.73,260.67 L542.66,259.19 L543.58,257.74 L544.51,256.32 L545.43,254.92 L546.36,253.56 L547.28,252.22 L548.21,250.91 L549.13,249.64 L550.06,248.40 L550.98,247.20 L551.91,246.03 L552.83,244.90 L553.76,243.81 L554.68,242.75 L555.61,241.74 L556.53,240.76 L557.46,239.82 L558.38,238.92 L559.31,238.05 L560.23,237.23 L561.16,236.44 L562.08,235.69 L563.01,234.98 L563.93,234.31 L564.86,233.67 L565.78,233.06 L566.71,232.49 L567.63,231.95 L568.56,231.44 L569.48,230.96 L570.41,230.51 L571.33,230.09 L572.26,229.69 L573.18,229.32 L574.11,228.97 L575.03,228.65 L575.96,228.35 L576.88,228.06 L577.81,227.80 L578.73,227.56 L579.65,227.33 L580.58,227.12 L581.50,226.92 L582.43,226.74 L583.35,226.57 L584.28,226.41 L585.20,226.27 L586.13,226.13 L587.05,226.01 L587.98,225.89 L588.90,225.78 L589.83,225.68 L590.75,225.59 L591.68,225.51 L592.60,225.43 L593.53,225.36 L594.45,225.29 L595.38,225.23 L596.30,225.17 L597.23,225.12 L598.15,225.07 L599.08,225.03 L600.00,224.99 L600.93,224.95 L601.85,224.91 L602.78,224.88 L603.70,224.85 L604.63,224.82 L605.55,224.80 L606.48,224.77 L607.40,224.75 L608.33,224.73 L609.25,224.71 L610.18,224.70 L611.10,224.68 L612.03,224.67 L612.95,224.65 L613.88,224.64 L614.80,224.63 L615.73,224.62 L616.65,224.61 L617.58,224.60 L618.50,224.59 L619.43,224.59 L620.35,224.58 L621.28,224.57 L622.20,224.57 L623.13,224.56 L624.05,224.56 L624.98,224.55 L625.90,224.55 L626.83,224.55 L627.75,224.54 L628.68,224.54 L629.60,224.54 L630.53,224.53 L631.45,224.53 L632.38,224.53 L633.30,224.53 L634.23,224.52 L635.15,224.52 L636.08,224.52 L637.00,224.52 L637.93,224.52 L638.85,224.52 L639.78,224.52 L640.70,224.51 L641.63,224.51 L642.55,224.51 L643.48,224.51 L644.40,224.51" fill="none" stroke="#2b9a80" stroke-width="1.6"/>
<path d="M459.41,369.40 L460.34,369.12 L461.26,368.82 L462.19,368.50 L463.11,368.15 L464.04,367.78 L464.96,367.39 L465.89,366.97 L466.81,366.53 L467.74,366.05 L468.66,365.55 L469.59,365.01 L470.51,364.44 L471.44,363.84 L472.36,363.20 L473.29,362.53 L474.21,361.82 L475.14,361.08 L476.06,360.30 L476.99,359.48 L477.91,358.62 L478.84,357.72 L479.76,356.78 L480.69,355.81 L481.61,354.79 L482.54,353.74 L483.46,352.65 L484.39,351.52 L485.31,350.36 L486.24,349.15 L487.16,347.92 L488.09,346.64 L489.01,345.34 L489.94,344.00 L490.86,342.63 L491.79,341.23 L492.71,339.80 L493.64,338.35 L494.56,336.87 L495.49,335.36 L496.41,333.83 L497.34,332.28 L498.26,330.71 L499.19,329.11 L500.11,327.50 L501.04,325.87 L501.96,324.23 L502.89,322.57 L503.81,320.90 L504.74,319.21 L505.66,317.52 L506.59,315.81 L507.51,314.10 L508.44,312.37 L509.36,310.64 L510.29,308.91 L511.21,307.16 L512.14,305.42 L513.06,303.67 L513.98,301.92 L514.91,300.16 L515.83,298.41 L516.76,296.65 L517.68,294.90 L518.61,293.15 L519.53,291.40 L520.46,289.66 L521.38,287.92 L522.31,286.18 L523.23,284.45 L524.16,282.73 L525.08,281.02 L526.01,279.32 L526.93,277.63 L527.86,275.95 L528.78,274.28 L529.71,272.63 L530.63,270.99 L531.56,269.36 L532.48,267.76 L533.41,266.17 L534.33,264.61 L535.26,263.06 L536.18,261.54 L537.11,260.05 L538.03,258.57 L538.96,257.13 L539.88,255.71 L540.81,254.32 L541.73,252.96 L542.66,251.64 L543.58,250.34 L544.51,249.08 L545.43,247.86 L546.36,246.67 L547.28,245.52 L548.21,244.40 L549.13,243.33 L550.06,242.29 L550.98,241.29 L551.91,240.33 L552.83,239.40 L553.76,238.52 L554.68,237.67 L555.61,236.87 L556.53,236.10 L557.46,235.37 L558.38,234.67 L559.31,234.02 L560.23,233.39 L561.16,232.80 L562.08,232.25 L563.01,231.72 L563.93,231.23 L564.86,230.76 L565.78,230.33 L566.71,229.92 L567.63,229.53 L568.56,229.17 L569.48,228.84 L570.41,228.53 L571.33,228.23 L572.26,227.96 L573.18,227.71 L574.11,227.47 L575.03,227.25 L575.96,227.05 L576.88,226.86 L577.81,226.68 L578.73,226.52 L579.65,226.37 L580.58,226.23 L581.50,226.10 L582.43,225.98 L583.35,225.87 L584.28,225.76 L585.20,225.67 L586.13,225.58 L587.05,225.50 L587.98,225.42 L588.90,225.36 L589.83,225.29 L590.75,225.23 L591.68,225.18 L592.60,225.13 L593.53,225.08 L594.45,225.04 L595.38,225.00 L596.30,224.96 L597.23,224.93 L598.15,224.90 L599.08,224.87 L600.00,224.84 L600.93,224.82 L601.85,224.80 L602.78,224.77 L603.70,224.76 L604.63,224.74 L605.55,224.72 L606.48,224.71 L607.40,224.69 L608.33,224.68 L609.25,224.67 L610.18,224.66 L611.10,224.65 L612.03,224.64 L612.95,224.63 L613.88,224.62 L614.80,224.62 L615.73,224.61 L616.65,224.60 L617.58,224.60 L618.50,224.59 L619.43,224.59 L620.35,224.58 L621.28,224.58 L622.20,224.58 L623.13,224.57 L624.05,224.57 L624.98,224.57 L625.90,224.56 L626.83,224.56 L627.75,224.56 L628.68,224.56 L629.60,224.56 L630.53,224.55 L631.45,224.55 L632.38,224.55 L633.30,224.55 L634.23,224.55 L635.15,224.55 L636.08,224.55 L637.00,224.55 L637.93,224.54 L638.85,224.54 L639.78,224.54 L640.70,224.54 L641.63,224.54 L642.55,224.54 L643.48,224.54 L644.40,224.54" fill="none" stroke="#1f5f51" stroke-width="1.6"/>
<rect x="459.5" y="214.4" width="191.5" height="155.1" fill="none" stroke="#333" stroke-width="1"/>
<path d="M463.80,369.5 v-3 M471.57,369.5 v-1.6 M476.11,369.5 v-1.6 M479.33,369.5 v-1.6 M481.83,369.5 v-1.6 M483.88,369.5 v-1.6 M485.60,369.5 v-1.6 M487.10,369.5 v-1.6 M488.42,369.5 v-1.6 M489.60,369.5 v-3 M497.37,369.5 v-1.6 M501.91,369.5 v-1.6 M505.13,369.5 v-1.6 M507.63,369.5 v-1.6 M509.68,369.5 v-1.6 M511.40,369.5 v-1.6 M512.90,369.5 v-1.6 M514.22,369.5 v-1.6 M515.40,369.5 v-3 M523.17,369.5 v-1.6 M527.71,369.5 v-1.6 M530.93,369.5 v-1.6 M533.43,369.5 v-1.6 M535.48,369.5 v-1.6 M537.20,369.5 v-1.6 M538.70,369.5 v-1.6 M540.02,369.5 v-1.6 M541.20,369.5 v-3 M548.97,369.5 v-1.6 M553.51,369.5 v-1.6 M556.73,369.5 v-1.6 M559.23,369.5 v-1.6 M561.28,369.5 v-1.6 M563.00,369.5 v-1.6 M564.50,369.5 v-1.6 M565.82,369.5 v-1.6 M567.00,369.5 v-3 M574.77,369.5 v-1.6 M579.31,369.5 v-1.6 M582.53,369.5 v-1.6 M585.03,369.5 v-1.6 M587.08,369.5 v-1.6 M588.80,369.5 v-1.6 M590.30,369.5 v-1.6 M591.62,369.5 v-1.6 M592.80,369.5 v-3 M600.57,369.5 v-1.6 M605.11,369.5 v-1.6 M608.33,369.5 v-1.6 M610.83,369.5 v-1.6 M612.88,369.5 v-1.6 M614.60,369.5 v-1.6 M616.10,369.5 v-1.6 M617.42,369.5 v-1.6 M618.60,369.5 v-3 M626.37,369.5 v-1.6 M630.91,369.5 v-1.6 M634.13,369.5 v-1.6 M636.63,369.5 v-1.6 M638.68,369.5 v-1.6 M640.40,369.5 v-1.6 M641.90,369.5 v-1.6 M643.22,369.5 v-1.6 M644.40,369.5 v-3 M459.80,369.5 v-1.6 M461.30,369.5 v-1.6 M462.62,369.5 v-1.6 M459.5,251.70 h3 M459.5,235.75 h1.6 M459.5,226.41 h1.6 M459.5,219.79 h1.6 M459.5,214.65 h1.6 M459.5,304.70 h3 M459.5,288.75 h1.6 M459.5,279.41 h1.6 M459.5,272.79 h1.6 M459.5,267.65 h1.6 M459.5,263.46 h1.6 M459.5,259.91 h1.6 M459.5,256.84 h1.6 M459.5,254.13 h1.6 M459.5,357.70 h3 M459.5,341.75 h1.6 M459.5,332.41 h1.6 M459.5,325.79 h1.6 M459.5,320.65 h1.6 M459.5,316.46 h1.6 M459.5,312.91 h1.6 M459.5,309.84 h1.6 M459.5,307.13 h1.6 M459.5,369.46 h1.6 M459.5,365.91 h1.6 M459.5,362.84 h1.6 M459.5,360.13 h1.6" stroke="#333" stroke-width="0.8" fill="none"/>
<text x="463.30" y="383.5" text-anchor="middle" font-size="11.2" fill="#222">10<tspan dy="-4.5" font-size="7.5">0</tspan></text>
<text x="489.10" y="383.5" text-anchor="middle" font-size="11.2" fill="#222">10<tspan dy="-4.5" font-size="7.5">1</tspan></text>
<text x="514.90" y="383.5" text-anchor="middle" font-size="11.2" fill="#222">10<tspan dy="-4.5" font-size="7.5">2</tspan></text>
<text x="540.70" y="383.5" text-anchor="middle" font-size="11.2" fill="#222">10<tspan dy="-4.5" font-size="7.5">3</tspan></text>
<text x="566.50" y="383.5" text-anchor="middle" font-size="11.2" fill="#222">10<tspan dy="-4.5" font-size="7.5">4</tspan></text>
<text x="592.30" y="383.5" text-anchor="middle" font-size="11.2" fill="#222">10<tspan dy="-4.5" font-size="7.5">5</tspan></text>
<text x="618.10" y="383.5" text-anchor="middle" font-size="11.2" fill="#222">10<tspan dy="-4.5" font-size="7.5">6</tspan></text>
<text x="643.90" y="383.5" text-anchor="middle" font-size="11.2" fill="#222">10<tspan dy="-4.5" font-size="7.5">7</tspan></text>
<text x="456.5" y="255.90" text-anchor="end" font-size="11.2" fill="#222">10<tspan dy="-4.5" font-size="7.5">0</tspan></text>
<text x="456.5" y="308.90" text-anchor="end" font-size="11.2" fill="#222">10<tspan dy="-4.5" font-size="7.5">-1</tspan></text>
<text x="456.5" y="361.90" text-anchor="end" font-size="11.2" fill="#222">10<tspan dy="-4.5" font-size="7.5">-2</tspan></text>
<text x="446" y="397.2" font-size="13.4" fill="#222">Surface passivation of pinhole (cm/s)</text>
<text transform="translate(433.6,343.2) rotate(-90)" font-size="13.8" fill="#222">Total J<tspan dy="3" font-size="9.5">0</tspan><tspan dy="-3"> (pA/cm</tspan><tspan dy="-5" font-size="9.5">2</tspan><tspan dy="5">)</tspan></text>
<text x="601.5" y="313.5" font-size="6" fill="#222">f=πr²/p²</text>
<path d="M602.4,319.5 H620.7" stroke="#c4eedd" stroke-width="1.0"/>
<text x="622.4" y="322.4" font-size="8" fill="#222">0.01</text>
<path d="M602.4,329.6 H620.7" stroke="#94dcc2" stroke-width="1.3" stroke-dasharray="4,3"/>
<text x="622.4" y="332.5" font-size="8" fill="#222">0.10</text>
<path d="M602.4,339.7 H620.7" stroke="#45c09e" stroke-width="1.6"/>
<text x="622.4" y="342.59999999999997" font-size="8" fill="#222">0.30</text>
<path d="M602.4,349.6 H620.7" stroke="#2b9a80" stroke-width="1.6"/>
<text x="622.4" y="352.5" font-size="8" fill="#222">0.45</text>
<path d="M602.4,359.2 H620.7" stroke="#1f5f51" stroke-width="1.6"/>
<text x="622.4" y="362.09999999999997" font-size="8" fill="#222">0.71</text>
<path d="M560,269.2 L579,286.2" stroke="#2f66b0" stroke-width="0.9"/>
<path d="M581,288 L574.5,285.5 L577.5,282 Z" fill="#2f66b0"/>
<text x="573" y="296.4" font-size="6.6" fill="#222">f in this work</text>
<text x="414.4" y="215.2" font-size="10.6" font-weight="bold" fill="#111">d</text>
</svg>
</body></html>
